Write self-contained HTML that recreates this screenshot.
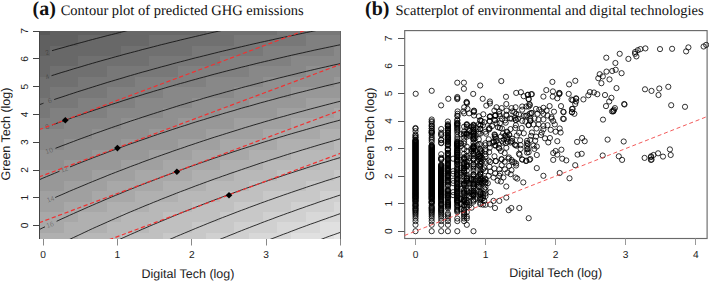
<!DOCTYPE html><html><head><meta charset="utf-8"><style>html,body{margin:0;padding:0;background:#fff;width:709px;height:281px;overflow:hidden}svg{display:block;text-rendering:geometricPrecision}</style></head><body>
<svg width="709" height="281" viewBox="0 0 709 281">
<defs><clipPath id="ca"><rect x="39" y="31" width="302" height="208"/></clipPath>
<linearGradient id="gt" x1="0" x2="1" y1="0" y2="0"><stop offset="0" stop-color="#5c5c5c"/><stop offset="1" stop-color="#7b7b7b"/></linearGradient>
<linearGradient id="gb" x1="0" x2="1" y1="0" y2="0"><stop offset="0" stop-color="#acacac"/><stop offset="1" stop-color="#e6e6e6"/></linearGradient>
<linearGradient id="gm" x1="0" x2="0" y1="0" y2="1"><stop offset="0" stop-color="#000"/><stop offset="1" stop-color="#fff"/></linearGradient>
<mask id="mk" maskUnits="userSpaceOnUse" x="39" y="31" width="302" height="208"><rect x="39" y="31" width="302" height="208" fill="url(#gm)"/></mask>
</defs>
<g>
<rect x="39" y="233" width="39" height="6" fill="#b0b0b0"/>
<rect x="78" y="233" width="43" height="6" fill="#b8b8b8"/>
<rect x="121" y="233" width="42" height="6" fill="#c0c0c0"/>
<rect x="163" y="233" width="43" height="6" fill="#c8c8c8"/>
<rect x="206" y="233" width="43" height="6" fill="#d0d0d0"/>
<rect x="249" y="233" width="42" height="6" fill="#d8d8d8"/>
<rect x="291" y="233" width="43" height="6" fill="#e0e0e0"/>
<rect x="334" y="233" width="7" height="6" fill="#e8e8e8"/>
<rect x="39" y="222" width="25" height="11" fill="#a8a8a8"/>
<rect x="64" y="222" width="43" height="11" fill="#b0b0b0"/>
<rect x="107" y="222" width="42" height="11" fill="#b8b8b8"/>
<rect x="149" y="222" width="43" height="11" fill="#c0c0c0"/>
<rect x="192" y="222" width="42" height="11" fill="#c8c8c8"/>
<rect x="234" y="222" width="43" height="11" fill="#d0d0d0"/>
<rect x="277" y="222" width="43" height="11" fill="#d8d8d8"/>
<rect x="320" y="222" width="21" height="11" fill="#e0e0e0"/>
<rect x="39" y="212" width="39" height="10" fill="#a8a8a8"/>
<rect x="78" y="212" width="43" height="10" fill="#b0b0b0"/>
<rect x="121" y="212" width="42" height="10" fill="#b8b8b8"/>
<rect x="163" y="212" width="57" height="10" fill="#c0c0c0"/>
<rect x="220" y="212" width="43" height="10" fill="#c8c8c8"/>
<rect x="263" y="212" width="43" height="10" fill="#d0d0d0"/>
<rect x="306" y="212" width="35" height="10" fill="#d8d8d8"/>
<rect x="39" y="202" width="25" height="10" fill="#a0a0a0"/>
<rect x="64" y="202" width="43" height="10" fill="#a8a8a8"/>
<rect x="107" y="202" width="42" height="10" fill="#b0b0b0"/>
<rect x="149" y="202" width="43" height="10" fill="#b8b8b8"/>
<rect x="192" y="202" width="42" height="10" fill="#c0c0c0"/>
<rect x="234" y="202" width="57" height="10" fill="#c8c8c8"/>
<rect x="291" y="202" width="43" height="10" fill="#d0d0d0"/>
<rect x="334" y="202" width="7" height="10" fill="#d8d8d8"/>
<rect x="39" y="191" width="53" height="11" fill="#a0a0a0"/>
<rect x="92" y="191" width="43" height="11" fill="#a8a8a8"/>
<rect x="135" y="191" width="43" height="11" fill="#b0b0b0"/>
<rect x="178" y="191" width="42" height="11" fill="#b8b8b8"/>
<rect x="220" y="191" width="43" height="11" fill="#c0c0c0"/>
<rect x="263" y="191" width="57" height="11" fill="#c8c8c8"/>
<rect x="320" y="191" width="21" height="11" fill="#d0d0d0"/>
<rect x="39" y="181" width="25" height="10" fill="#989898"/>
<rect x="64" y="181" width="43" height="10" fill="#a0a0a0"/>
<rect x="107" y="181" width="56" height="10" fill="#a8a8a8"/>
<rect x="163" y="181" width="43" height="10" fill="#b0b0b0"/>
<rect x="206" y="181" width="43" height="10" fill="#b8b8b8"/>
<rect x="249" y="181" width="57" height="10" fill="#c0c0c0"/>
<rect x="306" y="181" width="35" height="10" fill="#c8c8c8"/>
<rect x="39" y="170" width="53" height="11" fill="#989898"/>
<rect x="92" y="170" width="43" height="11" fill="#a0a0a0"/>
<rect x="135" y="170" width="57" height="11" fill="#a8a8a8"/>
<rect x="192" y="170" width="42" height="11" fill="#b0b0b0"/>
<rect x="234" y="170" width="43" height="11" fill="#b8b8b8"/>
<rect x="277" y="170" width="57" height="11" fill="#c0c0c0"/>
<rect x="334" y="170" width="7" height="11" fill="#c8c8c8"/>
<rect x="39" y="160" width="25" height="10" fill="#909090"/>
<rect x="64" y="160" width="57" height="10" fill="#989898"/>
<rect x="121" y="160" width="42" height="10" fill="#a0a0a0"/>
<rect x="163" y="160" width="57" height="10" fill="#a8a8a8"/>
<rect x="220" y="160" width="43" height="10" fill="#b0b0b0"/>
<rect x="263" y="160" width="57" height="10" fill="#b8b8b8"/>
<rect x="320" y="160" width="21" height="10" fill="#c0c0c0"/>
<rect x="39" y="150" width="53" height="10" fill="#909090"/>
<rect x="92" y="150" width="57" height="10" fill="#989898"/>
<rect x="149" y="150" width="43" height="10" fill="#a0a0a0"/>
<rect x="192" y="150" width="57" height="10" fill="#a8a8a8"/>
<rect x="249" y="150" width="42" height="10" fill="#b0b0b0"/>
<rect x="291" y="150" width="50" height="10" fill="#b8b8b8"/>
<rect x="39" y="139" width="25" height="11" fill="#888888"/>
<rect x="64" y="139" width="57" height="11" fill="#909090"/>
<rect x="121" y="139" width="57" height="11" fill="#989898"/>
<rect x="178" y="139" width="42" height="11" fill="#a0a0a0"/>
<rect x="220" y="139" width="57" height="11" fill="#a8a8a8"/>
<rect x="277" y="139" width="57" height="11" fill="#b0b0b0"/>
<rect x="334" y="139" width="7" height="11" fill="#b8b8b8"/>
<rect x="39" y="129" width="53" height="10" fill="#888888"/>
<rect x="92" y="129" width="57" height="10" fill="#909090"/>
<rect x="149" y="129" width="57" height="10" fill="#989898"/>
<rect x="206" y="129" width="57" height="10" fill="#a0a0a0"/>
<rect x="263" y="129" width="57" height="10" fill="#a8a8a8"/>
<rect x="320" y="129" width="21" height="10" fill="#b0b0b0"/>
<rect x="39" y="118" width="25" height="11" fill="#808080"/>
<rect x="64" y="118" width="57" height="11" fill="#888888"/>
<rect x="121" y="118" width="57" height="11" fill="#909090"/>
<rect x="178" y="118" width="56" height="11" fill="#989898"/>
<rect x="234" y="118" width="57" height="11" fill="#a0a0a0"/>
<rect x="291" y="118" width="50" height="11" fill="#a8a8a8"/>
<rect x="39" y="108" width="11" height="10" fill="#787878"/>
<rect x="50" y="108" width="57" height="10" fill="#808080"/>
<rect x="107" y="108" width="56" height="10" fill="#888888"/>
<rect x="163" y="108" width="57" height="10" fill="#909090"/>
<rect x="220" y="108" width="57" height="10" fill="#989898"/>
<rect x="277" y="108" width="57" height="10" fill="#a0a0a0"/>
<rect x="334" y="108" width="7" height="10" fill="#a8a8a8"/>
<rect x="39" y="98" width="39" height="10" fill="#787878"/>
<rect x="78" y="98" width="57" height="10" fill="#808080"/>
<rect x="135" y="98" width="57" height="10" fill="#888888"/>
<rect x="192" y="98" width="57" height="10" fill="#909090"/>
<rect x="249" y="98" width="57" height="10" fill="#989898"/>
<rect x="306" y="98" width="35" height="10" fill="#a0a0a0"/>
<rect x="39" y="87" width="11" height="11" fill="#707070"/>
<rect x="50" y="87" width="57" height="11" fill="#787878"/>
<rect x="107" y="87" width="56" height="11" fill="#808080"/>
<rect x="163" y="87" width="71" height="11" fill="#888888"/>
<rect x="234" y="87" width="57" height="11" fill="#909090"/>
<rect x="291" y="87" width="50" height="11" fill="#989898"/>
<rect x="39" y="77" width="39" height="10" fill="#707070"/>
<rect x="78" y="77" width="57" height="10" fill="#787878"/>
<rect x="135" y="77" width="71" height="10" fill="#808080"/>
<rect x="206" y="77" width="57" height="10" fill="#888888"/>
<rect x="263" y="77" width="71" height="10" fill="#909090"/>
<rect x="334" y="77" width="7" height="10" fill="#989898"/>
<rect x="39" y="66" width="11" height="11" fill="#686868"/>
<rect x="50" y="66" width="57" height="11" fill="#707070"/>
<rect x="107" y="66" width="71" height="11" fill="#787878"/>
<rect x="178" y="66" width="71" height="11" fill="#808080"/>
<rect x="249" y="66" width="57" height="11" fill="#888888"/>
<rect x="306" y="66" width="35" height="11" fill="#909090"/>
<rect x="39" y="56" width="39" height="10" fill="#686868"/>
<rect x="78" y="56" width="71" height="10" fill="#707070"/>
<rect x="149" y="56" width="71" height="10" fill="#787878"/>
<rect x="220" y="56" width="71" height="10" fill="#808080"/>
<rect x="291" y="56" width="50" height="10" fill="#888888"/>
<rect x="39" y="46" width="11" height="10" fill="#606060"/>
<rect x="50" y="46" width="71" height="10" fill="#686868"/>
<rect x="121" y="46" width="71" height="10" fill="#707070"/>
<rect x="192" y="46" width="71" height="10" fill="#787878"/>
<rect x="263" y="46" width="71" height="10" fill="#808080"/>
<rect x="334" y="46" width="7" height="10" fill="#888888"/>
<rect x="39" y="35" width="39" height="11" fill="#606060"/>
<rect x="78" y="35" width="71" height="11" fill="#686868"/>
<rect x="149" y="35" width="85" height="11" fill="#707070"/>
<rect x="234" y="35" width="72" height="11" fill="#787878"/>
<rect x="306" y="35" width="35" height="11" fill="#808080"/>
<rect x="39" y="31" width="11" height="4" fill="#585858"/>
<rect x="50" y="31" width="71" height="4" fill="#606060"/>
<rect x="121" y="31" width="85" height="4" fill="#686868"/>
<rect x="206" y="31" width="71" height="4" fill="#707070"/>
<rect x="277" y="31" width="64" height="4" fill="#787878"/>
</g>
<g clip-path="url(#ca)" fill="none" stroke="#111" stroke-width="0.85">
<polyline points="52.0,50.7 54.3,50.0 58.1,48.9 61.9,47.9 65.8,46.8 69.6,45.7 73.4,44.7 77.2,43.6 81.1,42.6 84.9,41.6 88.7,40.5 92.5,39.5 96.3,38.5 100.2,37.5 104.0,36.5 107.8,35.5 111.6,34.6 115.5,33.6 119.3,32.6 123.1,31.7 126.9,30.7 130.7,29.8 134.6,28.9 138.4,27.9 142.2,27.0 146.0,26.1 149.9,25.2 153.7,24.3 157.5,23.4 161.3,22.5 165.2,21.7 169.0,20.8 172.8,19.9 176.6,19.1 180.4,18.2 184.3,17.4 188.1,16.5 191.9,15.7 195.7,14.9 199.6,14.1 203.4,13.3 207.2,12.5 211.0,11.7 214.8,10.9 218.7,10.1 222.5,9.3 226.3,8.5 230.1,7.8 234.0,7.0 237.8,6.2 241.6,5.5 245.4,4.7 249.3,4.0 253.1,3.3 256.9,2.5 260.7,1.8 264.5,1.1 268.4,0.4 272.2,-0.3 276.0,-1.0 279.8,-1.7 283.7,-2.4 287.5,-3.1 291.3,-3.8 295.1,-4.4 298.9,-5.1 302.8,-5.8 306.6,-6.4 310.4,-7.1 314.2,-7.7 318.1,-8.4 321.9,-9.0 325.7,-9.6 329.5,-10.2 333.4,-10.9 337.2,-11.5 341.0,-12.1"/>
<polyline points="51.5,75.7 54.3,74.8 58.1,73.6 61.9,72.4 65.8,71.3 69.6,70.1 73.4,68.9 77.2,67.8 81.1,66.7 84.9,65.5 88.7,64.4 92.5,63.3 96.3,62.2 100.2,61.1 104.0,60.0 107.8,59.0 111.6,57.9 115.5,56.8 119.3,55.8 123.1,54.7 126.9,53.7 130.7,52.7 134.6,51.7 138.4,50.7 142.2,49.6 146.0,48.7 149.9,47.7 153.7,46.7 157.5,45.7 161.3,44.7 165.2,43.8 169.0,42.8 172.8,41.9 176.6,41.0 180.4,40.0 184.3,39.1 188.1,38.2 191.9,37.3 195.7,36.4 199.6,35.5 203.4,34.6 207.2,33.7 211.0,32.8 214.8,32.0 218.7,31.1 222.5,30.3 226.3,29.4 230.1,28.6 234.0,27.7 237.8,26.9 241.6,26.1 245.4,25.3 249.3,24.5 253.1,23.7 256.9,22.9 260.7,22.1 264.5,21.3 268.4,20.5 272.2,19.7 276.0,19.0 279.8,18.2 283.7,17.5 287.5,16.7 291.3,16.0 295.1,15.2 298.9,14.5 302.8,13.8 306.6,13.1 310.4,12.3 314.2,11.6 318.1,10.9 321.9,10.2 325.7,9.5 329.5,8.8 333.4,8.2 337.2,7.5 341.0,6.8"/>
<polyline points="54.0,99.6 54.3,99.5 58.1,98.2 61.9,97.0 65.8,95.7 69.6,94.4 73.4,93.2 77.2,91.9 81.1,90.7 84.9,89.5 88.7,88.3 92.5,87.1 96.3,85.9 100.2,84.7 104.0,83.5 107.8,82.3 111.6,81.2 115.5,80.0 119.3,78.9 123.1,77.8 126.9,76.6 130.7,75.5 134.6,74.4 138.4,73.3 142.2,72.2 146.0,71.2 149.9,70.1 153.7,69.0 157.5,68.0 161.3,66.9 165.2,65.9 169.0,64.9 172.8,63.8 176.6,62.8 180.4,61.8 184.3,60.8 188.1,59.8 191.9,58.8 195.7,57.8 199.6,56.9 203.4,55.9 207.2,55.0 211.0,54.0 214.8,53.1 218.7,52.1 222.5,51.2 226.3,50.3 230.1,49.4 234.0,48.5 237.8,47.6 241.6,46.7 245.4,45.8 249.3,44.9 253.1,44.0 256.9,43.2 260.7,42.3 264.5,41.5 268.4,40.6 272.2,39.8 276.0,38.9 279.8,38.1 283.7,37.3 287.5,36.5 291.3,35.7 295.1,34.9 298.9,34.1 302.8,33.3 306.6,32.5 310.4,31.7 314.2,30.9 318.1,30.2 321.9,29.4 325.7,28.7 329.5,27.9 333.4,27.2 337.2,26.4 341.0,25.7"/>
<polyline points="39.0,104.8 42.8,103.5 43.5,103.2"/>
<polyline points="52.0,125.0 54.3,124.2 58.1,122.8 61.9,121.4 65.8,120.1 69.6,118.7 73.4,117.3 77.2,116.0 81.1,114.7 84.9,113.4 88.7,112.1 92.5,110.8 96.3,109.5 100.2,108.2 104.0,106.9 107.8,105.7 111.6,104.4 115.5,103.2 119.3,102.0 123.1,100.7 126.9,99.5 130.7,98.3 134.6,97.1 138.4,96.0 142.2,94.8 146.0,93.6 149.9,92.5 153.7,91.3 157.5,90.2 161.3,89.1 165.2,87.9 169.0,86.8 172.8,85.7 176.6,84.6 180.4,83.5 184.3,82.5 188.1,81.4 191.9,80.3 195.7,79.3 199.6,78.2 203.4,77.2 207.2,76.2 211.0,75.1 214.8,74.1 218.7,73.1 222.5,72.1 226.3,71.1 230.1,70.1 234.0,69.2 237.8,68.2 241.6,67.2 245.4,66.3 249.3,65.3 253.1,64.4 256.9,63.4 260.7,62.5 264.5,61.6 268.4,60.7 272.2,59.8 276.0,58.9 279.8,58.0 283.7,57.1 287.5,56.2 291.3,55.3 295.1,54.5 298.9,53.6 302.8,52.8 306.6,51.9 310.4,51.1 314.2,50.2 318.1,49.4 321.9,48.6 325.7,47.8 329.5,47.0 333.4,46.2 337.2,45.4 341.0,44.6"/>
<polyline points="55.5,148.3 58.1,147.3 61.9,145.8 65.8,144.4 69.6,142.9 73.4,141.5 77.2,140.0 81.1,138.6 84.9,137.2 88.7,135.8 92.5,134.4 96.3,133.0 100.2,131.7 104.0,130.3 107.8,129.0 111.6,127.6 115.5,126.3 119.3,125.0 123.1,123.7 126.9,122.4 130.7,121.1 134.6,119.8 138.4,118.6 142.2,117.3 146.0,116.1 149.9,114.8 153.7,113.6 157.5,112.4 161.3,111.2 165.2,110.0 169.0,108.8 172.8,107.6 176.6,106.4 180.4,105.2 184.3,104.1 188.1,102.9 191.9,101.8 195.7,100.7 199.6,99.6 203.4,98.4 207.2,97.3 211.0,96.2 214.8,95.1 218.7,94.1 222.5,93.0 226.3,91.9 230.1,90.9 234.0,89.8 237.8,88.8 241.6,87.7 245.4,86.7 249.3,85.7 253.1,84.7 256.9,83.7 260.7,82.7 264.5,81.7 268.4,80.7 272.2,79.8 276.0,78.8 279.8,77.8 283.7,76.9 287.5,75.9 291.3,75.0 295.1,74.1 298.9,73.1 302.8,72.2 306.6,71.3 310.4,70.4 314.2,69.5 318.1,68.6 321.9,67.7 325.7,66.9 329.5,66.0 333.4,65.1 337.2,64.3 341.0,63.4"/>
<polyline points="70.0,166.9 73.4,165.6 77.2,164.0 81.1,162.5 84.9,161.0 88.7,159.5 92.5,158.0 96.3,156.6 100.2,155.1 104.0,153.7 107.8,152.2 111.6,150.8 115.5,149.4 119.3,148.0 123.1,146.6 126.9,145.2 130.7,143.8 134.6,142.5 138.4,141.1 142.2,139.8 146.0,138.5 149.9,137.1 153.7,135.8 157.5,134.5 161.3,133.2 165.2,132.0 169.0,130.7 172.8,129.4 176.6,128.2 180.4,126.9 184.3,125.7 188.1,124.5 191.9,123.2 195.7,122.0 199.6,120.8 203.4,119.7 207.2,118.5 211.0,117.3 214.8,116.1 218.7,115.0 222.5,113.8 226.3,112.7 230.1,111.6 234.0,110.5 237.8,109.3 241.6,108.2 245.4,107.1 249.3,106.1 253.1,105.0 256.9,103.9 260.7,102.8 264.5,101.8 268.4,100.7 272.2,99.7 276.0,98.7 279.8,97.6 283.7,96.6 287.5,95.6 291.3,94.6 295.1,93.6 298.9,92.6 302.8,91.7 306.6,90.7 310.4,89.7 314.2,88.8 318.1,87.8 321.9,86.9 325.7,85.9 329.5,85.0 333.4,84.1 337.2,83.2 341.0,82.3"/>
<polyline points="39.0,179.9 42.8,178.2 46.6,176.6 50.5,175.0 54.3,173.4 58.1,171.8 59.5,171.2"/>
<polyline points="55.2,197.5 58.1,196.2 61.9,194.6 65.8,192.9 69.6,191.2 73.4,189.6 77.2,188.0 81.1,186.4 84.9,184.8 88.7,183.2 92.5,181.6 96.3,180.1 100.2,178.5 104.0,177.0 107.8,175.4 111.6,173.9 115.5,172.4 119.3,170.9 123.1,169.5 126.9,168.0 130.7,166.5 134.6,165.1 138.4,163.7 142.2,162.2 146.0,160.8 149.9,159.4 153.7,158.0 157.5,156.6 161.3,155.3 165.2,153.9 169.0,152.6 172.8,151.2 176.6,149.9 180.4,148.6 184.3,147.3 188.1,145.9 191.9,144.7 195.7,143.4 199.6,142.1 203.4,140.8 207.2,139.6 211.0,138.3 214.8,137.1 218.7,135.9 222.5,134.7 226.3,133.5 230.1,132.3 234.0,131.1 237.8,129.9 241.6,128.7 245.4,127.5 249.3,126.4 253.1,125.2 256.9,124.1 260.7,123.0 264.5,121.8 268.4,120.7 272.2,119.6 276.0,118.5 279.8,117.4 283.7,116.4 287.5,115.3 291.3,114.2 295.1,113.2 298.9,112.1 302.8,111.1 306.6,110.0 310.4,109.0 314.2,108.0 318.1,107.0 321.9,106.0 325.7,105.0 329.5,104.0 333.4,103.0 337.2,102.0 341.0,101.1"/>
<polyline points="56.6,221.3 58.1,220.6 61.9,218.8 65.8,217.1 69.6,215.3 73.4,213.6 77.2,211.9 81.1,210.2 84.9,208.5 88.7,206.8 92.5,205.2 96.3,203.5 100.2,201.9 104.0,200.2 107.8,198.6 111.6,197.0 115.5,195.4 119.3,193.9 123.1,192.3 126.9,190.7 130.7,189.2 134.6,187.7 138.4,186.1 142.2,184.6 146.0,183.1 149.9,181.7 153.7,180.2 157.5,178.7 161.3,177.3 165.2,175.8 169.0,174.4 172.8,173.0 176.6,171.6 180.4,170.2 184.3,168.8 188.1,167.4 191.9,166.0 195.7,164.7 199.6,163.3 203.4,162.0 207.2,160.7 211.0,159.3 214.8,158.0 218.7,156.7 222.5,155.4 226.3,154.2 230.1,152.9 234.0,151.6 237.8,150.4 241.6,149.1 245.4,147.9 249.3,146.7 253.1,145.5 256.9,144.3 260.7,143.1 264.5,141.9 268.4,140.7 272.2,139.5 276.0,138.4 279.8,137.2 283.7,136.1 287.5,134.9 291.3,133.8 295.1,132.7 298.9,131.6 302.8,130.5 306.6,129.4 310.4,128.3 314.2,127.2 318.1,126.1 321.9,125.1 325.7,124.0 329.5,122.9 333.4,121.9 337.2,120.9 341.0,119.8"/>
<polyline points="39.0,229.7 42.8,227.8 45.0,226.8"/>
<polyline points="39.0,254.5 42.8,252.6 46.6,250.6 50.5,248.7 54.3,246.8 58.1,244.9 61.9,243.1 65.8,241.2 69.6,239.4 73.4,237.6 77.2,235.8 81.1,234.0 84.9,232.2 88.7,230.4 92.5,228.6 96.3,226.9 100.2,225.2 104.0,223.5 107.8,221.8 111.6,220.1 115.5,218.4 119.3,216.7 123.1,215.1 126.9,213.4 130.7,211.8 134.6,210.2 138.4,208.6 142.2,207.0 146.0,205.4 149.9,203.9 153.7,202.3 157.5,200.8 161.3,199.2 165.2,197.7 169.0,196.2 172.8,194.7 176.6,193.2 180.4,191.7 184.3,190.3 188.1,188.8 191.9,187.4 195.7,185.9 199.6,184.5 203.4,183.1 207.2,181.7 211.0,180.3 214.8,178.9 218.7,177.6 222.5,176.2 226.3,174.9 230.1,173.5 234.0,172.2 237.8,170.9 241.6,169.6 245.4,168.3 249.3,167.0 253.1,165.7 256.9,164.4 260.7,163.1 264.5,161.9 268.4,160.6 272.2,159.4 276.0,158.2 279.8,157.0 283.7,155.7 287.5,154.5 291.3,153.3 295.1,152.2 298.9,151.0 302.8,149.8 306.6,148.7 310.4,147.5 314.2,146.4 318.1,145.2 321.9,144.1 325.7,143.0 329.5,141.9 333.4,140.8 337.2,139.7 341.0,138.6"/>
<polyline points="39.0,279.3 42.8,277.2 46.6,275.2 50.5,273.2 54.3,271.2 58.1,269.2 61.9,267.3 65.8,265.3 69.6,263.4 73.4,261.5 77.2,259.6 81.1,257.7 84.9,255.8 88.7,253.9 92.5,252.1 96.3,250.3 100.2,248.4 104.0,246.6 107.8,244.9 111.6,243.1 115.5,241.3 119.3,239.6 123.1,237.8 126.9,236.1 130.7,234.4 134.6,232.7 138.4,231.0 142.2,229.3 146.0,227.7 149.9,226.0 153.7,224.4 157.5,222.8 161.3,221.2 165.2,219.6 169.0,218.0 172.8,216.4 176.6,214.8 180.4,213.3 184.3,211.7 188.1,210.2 191.9,208.7 195.7,207.2 199.6,205.7 203.4,204.2 207.2,202.7 211.0,201.3 214.8,199.8 218.7,198.4 222.5,196.9 226.3,195.5 230.1,194.1 234.0,192.7 237.8,191.3 241.6,189.9 245.4,188.6 249.3,187.2 253.1,185.9 256.9,184.5 260.7,183.2 264.5,181.9 268.4,180.5 272.2,179.2 276.0,178.0 279.8,176.7 283.7,175.4 287.5,174.1 291.3,172.9 295.1,171.6 298.9,170.4 302.8,169.2 306.6,167.9 310.4,166.7 314.2,165.5 318.1,164.3 321.9,163.1 325.7,162.0 329.5,160.8 333.4,159.6 337.2,158.5 341.0,157.3"/>
<polyline points="39.0,304.0 42.8,301.9 46.6,299.7 50.5,297.6 54.3,295.5 58.1,293.5 61.9,291.4 65.8,289.4 69.6,287.3 73.4,285.3 77.2,283.3 81.1,281.4 84.9,279.4 88.7,277.4 92.5,275.5 96.3,273.6 100.2,271.7 104.0,269.8 107.8,267.9 111.6,266.0 115.5,264.2 119.3,262.4 123.1,260.5 126.9,258.7 130.7,256.9 134.6,255.2 138.4,253.4 142.2,251.6 146.0,249.9 149.9,248.2 153.7,246.5 157.5,244.7 161.3,243.1 165.2,241.4 169.0,239.7 172.8,238.1 176.6,236.4 180.4,234.8 184.3,233.2 188.1,231.6 191.9,230.0 195.7,228.4 199.6,226.8 203.4,225.3 207.2,223.7 211.0,222.2 214.8,220.7 218.7,219.1 222.5,217.6 226.3,216.2 230.1,214.7 234.0,213.2 237.8,211.7 241.6,210.3 245.4,208.9 249.3,207.4 253.1,206.0 256.9,204.6 260.7,203.2 264.5,201.8 268.4,200.4 272.2,199.1 276.0,197.7 279.8,196.4 283.7,195.0 287.5,193.7 291.3,192.4 295.1,191.1 298.9,189.8 302.8,188.5 306.6,187.2 310.4,185.9 314.2,184.7 318.1,183.4 321.9,182.2 325.7,180.9 329.5,179.7 333.4,178.5 337.2,177.3 341.0,176.1"/>
<polyline points="39.0,328.7 42.8,326.5 46.6,324.2 50.5,322.0 54.3,319.8 58.1,317.7 61.9,315.5 65.8,313.4 69.6,311.3 73.4,309.1 77.2,307.1 81.1,305.0 84.9,302.9 88.7,300.9 92.5,298.9 96.3,296.9 100.2,294.9 104.0,292.9 107.8,290.9 111.6,289.0 115.5,287.0 119.3,285.1 123.1,283.2 126.9,281.3 130.7,279.4 134.6,277.6 138.4,275.7 142.2,273.9 146.0,272.1 149.9,270.3 153.7,268.5 157.5,266.7 161.3,264.9 165.2,263.2 169.0,261.4 172.8,259.7 176.6,258.0 180.4,256.3 184.3,254.6 188.1,252.9 191.9,251.2 195.7,249.6 199.6,247.9 203.4,246.3 207.2,244.7 211.0,243.1 214.8,241.5 218.7,239.9 222.5,238.3 226.3,236.8 230.1,235.2 234.0,233.7 237.8,232.1 241.6,230.6 245.4,229.1 249.3,227.6 253.1,226.1 256.9,224.7 260.7,223.2 264.5,221.7 268.4,220.3 272.2,218.9 276.0,217.4 279.8,216.0 283.7,214.6 287.5,213.2 291.3,211.9 295.1,210.5 298.9,209.1 302.8,207.8 306.6,206.4 310.4,205.1 314.2,203.8 318.1,202.4 321.9,201.1 325.7,199.8 329.5,198.6 333.4,197.3 337.2,196.0 341.0,194.8"/>
<polyline points="39.0,353.3 42.8,351.0 46.6,348.7 50.5,346.4 54.3,344.1 58.1,341.8 61.9,339.6 65.8,337.3 69.6,335.1 73.4,332.9 77.2,330.7 81.1,328.6 84.9,326.4 88.7,324.3 92.5,322.2 96.3,320.1 100.2,318.0 104.0,315.9 107.8,313.9 111.6,311.9 115.5,309.8 119.3,307.8 123.1,305.8 126.9,303.9 130.7,301.9 134.6,300.0 138.4,298.0 142.2,296.1 146.0,294.2 149.9,292.3 153.7,290.5 157.5,288.6 161.3,286.7 165.2,284.9 169.0,283.1 172.8,281.3 176.6,279.5 180.4,277.7 184.3,275.9 188.1,274.2 191.9,272.5 195.7,270.7 199.6,269.0 203.4,267.3 207.2,265.6 211.0,263.9 214.8,262.3 218.7,260.6 222.5,259.0 226.3,257.3 230.1,255.7 234.0,254.1 237.8,252.5 241.6,250.9 245.4,249.3 249.3,247.8 253.1,246.2 256.9,244.7 260.7,243.2 264.5,241.6 268.4,240.1 272.2,238.6 276.0,237.2 279.8,235.7 283.7,234.2 287.5,232.8 291.3,231.3 295.1,229.9 298.9,228.4 302.8,227.0 306.6,225.6 310.4,224.2 314.2,222.9 318.1,221.5 321.9,220.1 325.7,218.8 329.5,217.4 333.4,216.1 337.2,214.7 341.0,213.4"/>
<polyline points="39.0,377.9 42.8,375.5 46.6,373.1 50.5,370.7 54.3,368.3 58.1,365.9 61.9,363.6 65.8,361.2 69.6,358.9 73.4,356.7 77.2,354.4 81.1,352.1 84.9,349.9 88.7,347.7 92.5,345.5 96.3,343.3 100.2,341.1 104.0,339.0 107.8,336.8 111.6,334.7 115.5,332.6 119.3,330.5 123.1,328.4 126.9,326.4 130.7,324.3 134.6,322.3 138.4,320.3 142.2,318.3 146.0,316.3 149.9,314.4 153.7,312.4 157.5,310.5 161.3,308.5 165.2,306.6 169.0,304.7 172.8,302.8 176.6,301.0 180.4,299.1 184.3,297.3 188.1,295.5 191.9,293.6 195.7,291.8 199.6,290.0 203.4,288.3 207.2,286.5 211.0,284.8 214.8,283.0 218.7,281.3 222.5,279.6 226.3,277.9 230.1,276.2 234.0,274.5 237.8,272.8 241.6,271.2 245.4,269.6 249.3,267.9 253.1,266.3 256.9,264.7 260.7,263.1 264.5,261.5 268.4,259.9 272.2,258.4 276.0,256.8 279.8,255.3 283.7,253.8 287.5,252.2 291.3,250.7 295.1,249.2 298.9,247.8 302.8,246.3 306.6,244.8 310.4,243.4 314.2,241.9 318.1,240.5 321.9,239.1 325.7,237.6 329.5,236.2 333.4,234.8 337.2,233.5 341.0,232.1"/>
</g>
<g font-family="Liberation Sans, sans-serif" font-size="7" fill="#000" fill-opacity="0.32" text-anchor="middle">
<text x="47.6" y="53.2" transform="rotate(-20 47.6 53.2)" dominant-baseline="central">2</text>
<text x="47.6" y="77.7" transform="rotate(-20 47.6 77.7)" dominant-baseline="central">4</text>
<text x="50.0" y="101.5" transform="rotate(-20 50.0 101.5)" dominant-baseline="central">6</text>
<text x="47.7" y="127.5" transform="rotate(-20 47.7 127.5)" dominant-baseline="central">8</text>
<text x="49.5" y="151.6" transform="rotate(-20 49.5 151.6)" dominant-baseline="central">10</text>
<text x="64.6" y="170.0" transform="rotate(-20 64.6 170.0)" dominant-baseline="central">12</text>
<text x="50.8" y="200.0" transform="rotate(-20 50.8 200.0)" dominant-baseline="central">14</text>
<text x="50.3" y="225.6" transform="rotate(-20 50.3 225.6)" dominant-baseline="central">16</text>
</g>
<g clip-path="url(#ca)" stroke="#f03232" stroke-width="1.2" stroke-dasharray="4.2 2.6" fill="none">
<line x1="39.0" y1="129.7" x2="341.0" y2="16.9"/>
<line x1="39.0" y1="177.0" x2="341.0" y2="64.2"/>
<line x1="39.0" y1="222.8" x2="341.0" y2="110.0"/>
<line x1="39.0" y1="265.9" x2="341.0" y2="153.1"/>
</g>
<path d="M65.3 117.0L68.6 120.3L65.3 123.6L62.0 120.3Z" fill="#000"/>
<path d="M117.4 144.8L120.7 148.1L117.4 151.4L114.1 148.1Z" fill="#000"/>
<path d="M176.9 168.4L180.2 171.7L176.9 175.0L173.6 171.7Z" fill="#000"/>
<path d="M229.0 192.0L232.3 195.3L229.0 198.6L225.7 195.3Z" fill="#000"/>
<g stroke="#444" stroke-width="1" fill="none">
<line x1="39.5" y1="31" x2="39.5" y2="239"/>
<line x1="340.5" y1="31" x2="340.5" y2="239" stroke="#666"/>
<line x1="33" y1="225.5" x2="39.5" y2="225.5"/>
<line x1="33" y1="197.5" x2="39.5" y2="197.5"/>
<line x1="33" y1="170.5" x2="39.5" y2="170.5"/>
<line x1="33" y1="142.5" x2="39.5" y2="142.5"/>
<line x1="33" y1="114.5" x2="39.5" y2="114.5"/>
<line x1="33" y1="86.5" x2="39.5" y2="86.5"/>
<line x1="33" y1="58.5" x2="39.5" y2="58.5"/>
<line x1="33" y1="31.5" x2="39.5" y2="31.5"/>
</g>
<g stroke="#888" stroke-width="1">
<line x1="43.5" y1="239" x2="43.5" y2="245.5"/>
<line x1="117.5" y1="239" x2="117.5" y2="245.5"/>
<line x1="191.5" y1="239" x2="191.5" y2="245.5"/>
<line x1="266.5" y1="239" x2="266.5" y2="245.5"/>
<line x1="340.5" y1="239" x2="340.5" y2="245.5"/>
</g>
<g font-family="Liberation Sans, sans-serif" font-size="10.2" fill="#222" text-anchor="middle">
<text x="43.0" y="258.3">0</text>
<text x="117.4" y="258.3">1</text>
<text x="191.8" y="258.3">2</text>
<text x="266.2" y="258.3">3</text>
<text x="340.6" y="258.3">4</text>
<text x="27.9" y="225.5" transform="rotate(-90 27.9 225.5)">0</text>
<text x="27.9" y="197.7" transform="rotate(-90 27.9 197.7)">1</text>
<text x="27.9" y="169.9" transform="rotate(-90 27.9 169.9)">2</text>
<text x="27.9" y="142.1" transform="rotate(-90 27.9 142.1)">3</text>
<text x="27.9" y="114.3" transform="rotate(-90 27.9 114.3)">4</text>
<text x="27.9" y="86.6" transform="rotate(-90 27.9 86.6)">5</text>
<text x="27.9" y="58.8" transform="rotate(-90 27.9 58.8)">6</text>
<text x="27.9" y="31.0" transform="rotate(-90 27.9 31.0)">7</text>
</g>
<g font-family="Liberation Sans, sans-serif" font-size="12.5" fill="#222" text-anchor="middle">
<text x="188" y="277.8">Digital Tech (log)</text>
<text x="10" y="134" transform="rotate(-90 10 134)">Green Tech (log)</text>
<text x="555.7" y="277">Digital Tech (log)</text>
<text x="374.4" y="134" transform="rotate(-90 374.4 134)">Green Tech (log)</text>
</g>
<g font-family="Liberation Serif, serif" fill="#111">
<text x="32.5" y="15.3" font-size="20" font-weight="bold">(a)</text>
<text x="60.7" y="15.3" font-size="14.5">Contour plot of predicted GHG emissions</text>
<text x="365" y="15.3" font-size="20" font-weight="bold">(b)</text>
<text x="395.5" y="15.3" font-size="14.5">Scatterplot of environmental and digital technologies</text>
</g>
<rect x="404.7" y="30.6" width="302.4" height="207.9" fill="none" stroke="#6a6a6a" stroke-width="1.15"/>
<g stroke="#555" stroke-width="1">
<line x1="398" y1="231.5" x2="404.5" y2="231.5"/>
<line x1="398" y1="203.5" x2="404.5" y2="203.5"/>
<line x1="398" y1="176.5" x2="404.5" y2="176.5"/>
<line x1="398" y1="148.5" x2="404.5" y2="148.5"/>
<line x1="398" y1="121.5" x2="404.5" y2="121.5"/>
<line x1="398" y1="93.5" x2="404.5" y2="93.5"/>
<line x1="398" y1="65.5" x2="404.5" y2="65.5"/>
<line x1="398" y1="38.5" x2="404.5" y2="38.5"/>
</g>
<g stroke="#999" stroke-width="1">
<line x1="415.5" y1="238.5" x2="415.5" y2="245"/>
<line x1="485.5" y1="238.5" x2="485.5" y2="245"/>
<line x1="555.5" y1="238.5" x2="555.5" y2="245"/>
<line x1="625.5" y1="238.5" x2="625.5" y2="245"/>
<line x1="695.5" y1="238.5" x2="695.5" y2="245"/>
</g>
<g font-family="Liberation Sans, sans-serif" font-size="10.2" fill="#222" text-anchor="middle">
<text x="415.5" y="258">0</text>
<text x="485.6" y="258">1</text>
<text x="555.6" y="258">2</text>
<text x="625.7" y="258">3</text>
<text x="695.8" y="258">4</text>
<text x="392" y="231.2" transform="rotate(-90 392 231.2)">0</text>
<text x="392" y="203.7" transform="rotate(-90 392 203.7)">1</text>
<text x="392" y="176.1" transform="rotate(-90 392 176.1)">2</text>
<text x="392" y="148.6" transform="rotate(-90 392 148.6)">3</text>
<text x="392" y="121.0" transform="rotate(-90 392 121.0)">4</text>
<text x="392" y="93.5" transform="rotate(-90 392 93.5)">5</text>
<text x="392" y="66.0" transform="rotate(-90 392 66.0)">6</text>
<text x="392" y="38.4" transform="rotate(-90 392 38.4)">7</text>
</g>
<g fill="none" stroke="#000" stroke-width="0.8">
<circle cx="606.3" cy="57.7" r="2.6"/>
<circle cx="619.7" cy="53.8" r="2.6"/>
<circle cx="615.4" cy="63.0" r="2.6"/>
<circle cx="606.5" cy="71.6" r="2.6"/>
<circle cx="612.2" cy="71.0" r="2.6"/>
<circle cx="615.7" cy="69.8" r="2.6"/>
<circle cx="621.6" cy="73.2" r="2.6"/>
<circle cx="599.7" cy="74.2" r="2.6"/>
<circle cx="602.8" cy="76.4" r="2.6"/>
<circle cx="598.3" cy="78.2" r="2.6"/>
<circle cx="609.5" cy="79.4" r="2.6"/>
<circle cx="628.4" cy="58.9" r="2.6"/>
<circle cx="635.1" cy="52.0" r="2.6"/>
<circle cx="636.4" cy="56.4" r="2.6"/>
<circle cx="637.8" cy="50.2" r="2.6"/>
<circle cx="640.4" cy="49.1" r="2.6"/>
<circle cx="635.1" cy="53.8" r="2.6"/>
<circle cx="645.4" cy="48.4" r="2.6"/>
<circle cx="660.0" cy="49.1" r="2.6"/>
<circle cx="672.1" cy="48.8" r="2.6"/>
<circle cx="688.4" cy="47.4" r="2.6"/>
<circle cx="686.1" cy="51.4" r="2.6"/>
<circle cx="703.6" cy="46.5" r="2.6"/>
<circle cx="706.2" cy="44.9" r="2.6"/>
<circle cx="415.7" cy="93.8" r="2.6"/>
<circle cx="431.7" cy="90.8" r="2.6"/>
<circle cx="441.1" cy="105.4" r="2.6"/>
<circle cx="448.3" cy="98.8" r="2.6"/>
<circle cx="457.3" cy="82.7" r="2.6"/>
<circle cx="463.9" cy="82.7" r="2.6"/>
<circle cx="463.9" cy="88.8" r="2.6"/>
<circle cx="480.2" cy="85.5" r="2.6"/>
<circle cx="473.2" cy="93.9" r="2.6"/>
<circle cx="457.3" cy="97.0" r="2.6"/>
<circle cx="457.3" cy="98.2" r="2.6"/>
<circle cx="457.3" cy="99.1" r="2.6"/>
<circle cx="482.7" cy="98.8" r="2.6"/>
<circle cx="466.6" cy="101.9" r="2.6"/>
<circle cx="466.6" cy="102.5" r="2.6"/>
<circle cx="467.0" cy="103.2" r="2.6"/>
<circle cx="489.9" cy="101.5" r="2.6"/>
<circle cx="489.9" cy="103.5" r="2.6"/>
<circle cx="486.3" cy="105.6" r="2.6"/>
<circle cx="464.2" cy="107.3" r="2.6"/>
<circle cx="467.5" cy="108.9" r="2.6"/>
<circle cx="474.0" cy="110.6" r="2.6"/>
<circle cx="474.0" cy="111.2" r="2.6"/>
<circle cx="473.7" cy="112.2" r="2.6"/>
<circle cx="463.4" cy="111.4" r="2.6"/>
<circle cx="464.2" cy="113.3" r="2.6"/>
<circle cx="469.1" cy="113.3" r="2.6"/>
<circle cx="457.6" cy="111.4" r="2.6"/>
<circle cx="457.6" cy="113.8" r="2.6"/>
<circle cx="457.6" cy="116.3" r="2.6"/>
<circle cx="474.0" cy="115.5" r="2.6"/>
<circle cx="478.9" cy="116.3" r="2.6"/>
<circle cx="483.3" cy="114.3" r="2.6"/>
<circle cx="489.9" cy="116.6" r="2.6"/>
<circle cx="501.3" cy="81.1" r="2.6"/>
<circle cx="506.0" cy="96.8" r="2.6"/>
<circle cx="516.2" cy="92.9" r="2.6"/>
<circle cx="520.9" cy="92.2" r="2.6"/>
<circle cx="523.7" cy="96.2" r="2.6"/>
<circle cx="527.9" cy="94.7" r="2.6"/>
<circle cx="531.2" cy="94.2" r="2.6"/>
<circle cx="528.7" cy="99.1" r="2.6"/>
<circle cx="506.3" cy="104.0" r="2.6"/>
<circle cx="496.5" cy="107.3" r="2.6"/>
<circle cx="501.7" cy="108.1" r="2.6"/>
<circle cx="511.5" cy="108.1" r="2.6"/>
<circle cx="515.6" cy="107.3" r="2.6"/>
<circle cx="522.2" cy="106.5" r="2.6"/>
<circle cx="526.3" cy="106.5" r="2.6"/>
<circle cx="529.9" cy="105.2" r="2.6"/>
<circle cx="522.2" cy="109.7" r="2.6"/>
<circle cx="494.4" cy="110.6" r="2.6"/>
<circle cx="499.3" cy="111.4" r="2.6"/>
<circle cx="506.6" cy="110.6" r="2.6"/>
<circle cx="512.4" cy="111.4" r="2.6"/>
<circle cx="516.1" cy="113.8" r="2.6"/>
<circle cx="518.9" cy="114.6" r="2.6"/>
<circle cx="490.3" cy="116.3" r="2.6"/>
<circle cx="495.2" cy="115.5" r="2.6"/>
<circle cx="500.1" cy="116.3" r="2.6"/>
<circle cx="506.6" cy="115.5" r="2.6"/>
<circle cx="525.5" cy="116.0" r="2.6"/>
<circle cx="531.2" cy="113.0" r="2.6"/>
<circle cx="511.5" cy="118.7" r="2.6"/>
<circle cx="515.6" cy="119.9" r="2.6"/>
<circle cx="552.4" cy="81.9" r="2.6"/>
<circle cx="569.1" cy="84.4" r="2.6"/>
<circle cx="546.3" cy="90.1" r="2.6"/>
<circle cx="552.9" cy="91.4" r="2.6"/>
<circle cx="559.2" cy="92.9" r="2.6"/>
<circle cx="559.6" cy="93.3" r="2.6"/>
<circle cx="559.2" cy="94.2" r="2.6"/>
<circle cx="531.9" cy="94.2" r="2.6"/>
<circle cx="543.4" cy="96.6" r="2.6"/>
<circle cx="552.7" cy="96.6" r="2.6"/>
<circle cx="557.3" cy="98.3" r="2.6"/>
<circle cx="568.7" cy="93.9" r="2.6"/>
<circle cx="571.5" cy="99.6" r="2.6"/>
<circle cx="527.8" cy="95.0" r="2.6"/>
<circle cx="528.6" cy="99.1" r="2.6"/>
<circle cx="529.5" cy="104.0" r="2.6"/>
<circle cx="528.6" cy="106.5" r="2.6"/>
<circle cx="549.6" cy="106.1" r="2.6"/>
<circle cx="561.0" cy="106.1" r="2.6"/>
<circle cx="536.0" cy="108.9" r="2.6"/>
<circle cx="539.3" cy="109.7" r="2.6"/>
<circle cx="543.4" cy="107.8" r="2.6"/>
<circle cx="546.6" cy="110.6" r="2.6"/>
<circle cx="541.7" cy="111.4" r="2.6"/>
<circle cx="554.0" cy="111.7" r="2.6"/>
<circle cx="563.3" cy="111.7" r="2.6"/>
<circle cx="563.6" cy="112.2" r="2.6"/>
<circle cx="572.0" cy="108.9" r="2.6"/>
<circle cx="572.0" cy="112.2" r="2.6"/>
<circle cx="531.9" cy="113.0" r="2.6"/>
<circle cx="537.6" cy="113.8" r="2.6"/>
<circle cx="543.4" cy="113.8" r="2.6"/>
<circle cx="547.5" cy="115.5" r="2.6"/>
<circle cx="551.5" cy="117.1" r="2.6"/>
<circle cx="563.0" cy="118.7" r="2.6"/>
<circle cx="530.3" cy="118.7" r="2.6"/>
<circle cx="527.0" cy="115.5" r="2.6"/>
<circle cx="589.9" cy="92.1" r="2.6"/>
<circle cx="594.0" cy="92.5" r="2.6"/>
<circle cx="597.3" cy="94.2" r="2.6"/>
<circle cx="588.3" cy="95.3" r="2.6"/>
<circle cx="583.4" cy="99.4" r="2.6"/>
<circle cx="576.0" cy="98.3" r="2.6"/>
<circle cx="576.3" cy="98.8" r="2.6"/>
<circle cx="572.7" cy="100.2" r="2.6"/>
<circle cx="576.0" cy="101.5" r="2.6"/>
<circle cx="575.2" cy="104.0" r="2.6"/>
<circle cx="605.0" cy="95.0" r="2.6"/>
<circle cx="609.2" cy="101.5" r="2.6"/>
<circle cx="606.0" cy="106.1" r="2.6"/>
<circle cx="572.7" cy="108.9" r="2.6"/>
<circle cx="571.9" cy="112.2" r="2.6"/>
<circle cx="574.4" cy="113.8" r="2.6"/>
<circle cx="612.0" cy="111.4" r="2.6"/>
<circle cx="603.0" cy="119.6" r="2.6"/>
<circle cx="601.4" cy="83.2" r="2.6"/>
<circle cx="611.4" cy="97.8" r="2.6"/>
<circle cx="616.5" cy="88.1" r="2.6"/>
<circle cx="645.0" cy="89.3" r="2.6"/>
<circle cx="651.5" cy="90.9" r="2.6"/>
<circle cx="624.2" cy="104.0" r="2.6"/>
<circle cx="624.5" cy="104.5" r="2.6"/>
<circle cx="614.9" cy="108.1" r="2.6"/>
<circle cx="613.9" cy="109.7" r="2.6"/>
<circle cx="613.2" cy="111.4" r="2.6"/>
<circle cx="613.5" cy="111.0" r="2.6"/>
<circle cx="659.3" cy="88.5" r="2.6"/>
<circle cx="658.5" cy="95.0" r="2.6"/>
<circle cx="668.3" cy="86.8" r="2.6"/>
<circle cx="671.2" cy="105.2" r="2.6"/>
<circle cx="685.0" cy="106.8" r="2.6"/>
<circle cx="575.3" cy="80.8" r="2.6"/>
<circle cx="530.3" cy="121.1" r="2.6"/>
<circle cx="534.4" cy="118.6" r="2.6"/>
<circle cx="538.5" cy="119.5" r="2.6"/>
<circle cx="543.4" cy="119.5" r="2.6"/>
<circle cx="551.5" cy="118.6" r="2.6"/>
<circle cx="553.2" cy="121.1" r="2.6"/>
<circle cx="563.8" cy="119.0" r="2.6"/>
<circle cx="528.6" cy="125.2" r="2.6"/>
<circle cx="533.5" cy="124.4" r="2.6"/>
<circle cx="538.5" cy="124.4" r="2.6"/>
<circle cx="543.4" cy="126.0" r="2.6"/>
<circle cx="547.5" cy="125.2" r="2.6"/>
<circle cx="554.8" cy="124.4" r="2.6"/>
<circle cx="536.5" cy="128.5" r="2.6"/>
<circle cx="543.4" cy="129.3" r="2.6"/>
<circle cx="550.7" cy="129.8" r="2.6"/>
<circle cx="555.6" cy="131.7" r="2.6"/>
<circle cx="559.7" cy="128.5" r="2.6"/>
<circle cx="560.6" cy="132.5" r="2.6"/>
<circle cx="531.9" cy="132.5" r="2.6"/>
<circle cx="541.7" cy="132.5" r="2.6"/>
<circle cx="531.1" cy="135.8" r="2.6"/>
<circle cx="536.0" cy="136.6" r="2.6"/>
<circle cx="540.9" cy="135.0" r="2.6"/>
<circle cx="545.0" cy="138.3" r="2.6"/>
<circle cx="549.9" cy="138.0" r="2.6"/>
<circle cx="530.3" cy="139.9" r="2.6"/>
<circle cx="535.2" cy="140.7" r="2.6"/>
<circle cx="548.3" cy="142.4" r="2.6"/>
<circle cx="557.3" cy="141.2" r="2.6"/>
<circle cx="527.8" cy="144.0" r="2.6"/>
<circle cx="533.5" cy="145.6" r="2.6"/>
<circle cx="536.8" cy="146.5" r="2.6"/>
<circle cx="534.4" cy="148.9" r="2.6"/>
<circle cx="527.8" cy="148.9" r="2.6"/>
<circle cx="528.6" cy="152.2" r="2.6"/>
<circle cx="536.8" cy="155.0" r="2.6"/>
<circle cx="553.2" cy="153.0" r="2.6"/>
<circle cx="555.6" cy="151.0" r="2.6"/>
<circle cx="557.3" cy="154.6" r="2.6"/>
<circle cx="561.4" cy="149.7" r="2.6"/>
<circle cx="553.2" cy="159.9" r="2.6"/>
<circle cx="562.2" cy="158.7" r="2.6"/>
<circle cx="566.3" cy="160.4" r="2.6"/>
<circle cx="529.5" cy="159.9" r="2.6"/>
<circle cx="582.1" cy="138.0" r="2.6"/>
<circle cx="584.7" cy="141.2" r="2.6"/>
<circle cx="577.1" cy="141.9" r="2.6"/>
<circle cx="607.6" cy="139.6" r="2.6"/>
<circle cx="577.6" cy="154.6" r="2.6"/>
<circle cx="581.7" cy="153.8" r="2.6"/>
<circle cx="602.7" cy="155.5" r="2.6"/>
<circle cx="623.7" cy="141.5" r="2.6"/>
<circle cx="618.8" cy="156.3" r="2.6"/>
<circle cx="622.1" cy="159.9" r="2.6"/>
<circle cx="644.6" cy="157.9" r="2.6"/>
<circle cx="650.9" cy="157.1" r="2.6"/>
<circle cx="650.9" cy="159.9" r="2.6"/>
<circle cx="651.1" cy="156.3" r="2.6"/>
<circle cx="651.6" cy="159.6" r="2.6"/>
<circle cx="653.5" cy="155.0" r="2.6"/>
<circle cx="658.1" cy="153.3" r="2.6"/>
<circle cx="663.0" cy="156.6" r="2.6"/>
<circle cx="669.9" cy="149.4" r="2.6"/>
<circle cx="670.7" cy="155.0" r="2.6"/>
<circle cx="575.2" cy="165.2" r="2.6"/>
<circle cx="569.5" cy="178.3" r="2.6"/>
<circle cx="536.8" cy="168.1" r="2.6"/>
<circle cx="543.4" cy="175.8" r="2.6"/>
<circle cx="559.7" cy="173.0" r="2.6"/>
<circle cx="501.7" cy="159.5" r="2.6"/>
<circle cx="508.3" cy="158.6" r="2.6"/>
<circle cx="522.2" cy="159.5" r="2.6"/>
<circle cx="526.3" cy="160.6" r="2.6"/>
<circle cx="496.0" cy="161.1" r="2.6"/>
<circle cx="490.3" cy="161.9" r="2.6"/>
<circle cx="512.4" cy="161.9" r="2.6"/>
<circle cx="516.1" cy="163.5" r="2.6"/>
<circle cx="501.7" cy="165.2" r="2.6"/>
<circle cx="509.1" cy="166.0" r="2.6"/>
<circle cx="516.1" cy="165.5" r="2.6"/>
<circle cx="489.5" cy="166.8" r="2.6"/>
<circle cx="494.4" cy="168.5" r="2.6"/>
<circle cx="499.3" cy="169.3" r="2.6"/>
<circle cx="505.0" cy="169.3" r="2.6"/>
<circle cx="511.5" cy="170.1" r="2.6"/>
<circle cx="490.3" cy="171.7" r="2.6"/>
<circle cx="495.2" cy="173.4" r="2.6"/>
<circle cx="500.1" cy="173.4" r="2.6"/>
<circle cx="507.5" cy="172.5" r="2.6"/>
<circle cx="510.7" cy="174.2" r="2.6"/>
<circle cx="488.6" cy="175.8" r="2.6"/>
<circle cx="493.5" cy="177.5" r="2.6"/>
<circle cx="499.3" cy="175.8" r="2.6"/>
<circle cx="503.4" cy="177.5" r="2.6"/>
<circle cx="515.6" cy="177.5" r="2.6"/>
<circle cx="517.3" cy="178.6" r="2.6"/>
<circle cx="497.6" cy="180.7" r="2.6"/>
<circle cx="500.9" cy="181.5" r="2.6"/>
<circle cx="523.3" cy="182.4" r="2.6"/>
<circle cx="487.8" cy="183.2" r="2.6"/>
<circle cx="506.3" cy="186.5" r="2.6"/>
<circle cx="490.3" cy="192.2" r="2.6"/>
<circle cx="506.3" cy="197.6" r="2.6"/>
<circle cx="493.5" cy="200.9" r="2.6"/>
<circle cx="499.3" cy="200.9" r="2.6"/>
<circle cx="490.3" cy="204.5" r="2.6"/>
<circle cx="495.0" cy="208.0" r="2.6"/>
<circle cx="508.7" cy="210.2" r="2.6"/>
<circle cx="511.3" cy="208.0" r="2.6"/>
<circle cx="519.3" cy="208.0" r="2.6"/>
<circle cx="528.7" cy="218.2" r="2.6"/>
<circle cx="495.2" cy="120.4" r="2.6"/>
<circle cx="505.0" cy="120.4" r="2.6"/>
<circle cx="522.2" cy="120.9" r="2.6"/>
<circle cx="530.4" cy="120.4" r="2.6"/>
<circle cx="489.6" cy="120.9" r="2.6"/>
<circle cx="488.7" cy="139.3" r="2.6"/>
<circle cx="489.2" cy="143.5" r="2.6"/>
<circle cx="489.7" cy="147.8" r="2.6"/>
<circle cx="489.2" cy="152.1" r="2.6"/>
<circle cx="488.7" cy="160.6" r="2.6"/>
<circle cx="493.5" cy="141.4" r="2.6"/>
<circle cx="494.0" cy="142.0" r="2.6"/>
<circle cx="495.1" cy="145.1" r="2.6"/>
<circle cx="495.6" cy="145.8" r="2.6"/>
<circle cx="495.6" cy="137.1" r="2.6"/>
<circle cx="494.5" cy="156.3" r="2.6"/>
<circle cx="495.6" cy="161.1" r="2.6"/>
<circle cx="498.8" cy="147.8" r="2.6"/>
<circle cx="499.3" cy="148.5" r="2.6"/>
<circle cx="500.9" cy="151.0" r="2.6"/>
<circle cx="501.5" cy="159.0" r="2.6"/>
<circle cx="502.0" cy="140.9" r="2.6"/>
<circle cx="504.7" cy="161.7" r="2.6"/>
<circle cx="505.7" cy="143.0" r="2.6"/>
<circle cx="506.3" cy="147.8" r="2.6"/>
<circle cx="504.7" cy="153.1" r="2.6"/>
<circle cx="508.9" cy="157.4" r="2.6"/>
<circle cx="507.3" cy="137.1" r="2.6"/>
<circle cx="512.1" cy="140.9" r="2.6"/>
<circle cx="514.8" cy="144.6" r="2.6"/>
<circle cx="515.5" cy="145.0" r="2.6"/>
<circle cx="516.4" cy="145.7" r="2.6"/>
<circle cx="520.1" cy="140.3" r="2.6"/>
<circle cx="520.6" cy="145.1" r="2.6"/>
<circle cx="520.6" cy="148.9" r="2.6"/>
<circle cx="519.0" cy="153.7" r="2.6"/>
<circle cx="519.6" cy="154.7" r="2.6"/>
<circle cx="527.0" cy="143.0" r="2.6"/>
<circle cx="527.0" cy="146.2" r="2.6"/>
<circle cx="527.0" cy="149.4" r="2.6"/>
<circle cx="527.0" cy="152.6" r="2.6"/>
<circle cx="522.2" cy="159.5" r="2.6"/>
<circle cx="526.0" cy="161.1" r="2.6"/>
<circle cx="530.2" cy="159.0" r="2.6"/>
<circle cx="511.6" cy="160.0" r="2.6"/>
<circle cx="514.3" cy="162.2" r="2.6"/>
<circle cx="489.7" cy="116.8" r="2.6"/>
<circle cx="489.7" cy="121.6" r="2.6"/>
<circle cx="489.2" cy="128.0" r="2.6"/>
<circle cx="489.6" cy="128.8" r="2.6"/>
<circle cx="488.7" cy="129.6" r="2.6"/>
<circle cx="495.1" cy="115.2" r="2.6"/>
<circle cx="495.5" cy="115.8" r="2.6"/>
<circle cx="494.5" cy="120.0" r="2.6"/>
<circle cx="494.5" cy="134.4" r="2.6"/>
<circle cx="494.9" cy="135.0" r="2.6"/>
<circle cx="496.1" cy="138.7" r="2.6"/>
<circle cx="499.3" cy="114.1" r="2.6"/>
<circle cx="499.9" cy="123.2" r="2.6"/>
<circle cx="499.9" cy="128.0" r="2.6"/>
<circle cx="502.0" cy="118.9" r="2.6"/>
<circle cx="505.7" cy="122.7" r="2.6"/>
<circle cx="506.3" cy="114.7" r="2.6"/>
<circle cx="506.8" cy="131.7" r="2.6"/>
<circle cx="507.2" cy="132.3" r="2.6"/>
<circle cx="505.2" cy="135.5" r="2.6"/>
<circle cx="505.6" cy="136.0" r="2.6"/>
<circle cx="508.9" cy="134.4" r="2.6"/>
<circle cx="509.3" cy="135.0" r="2.6"/>
<circle cx="510.5" cy="129.1" r="2.6"/>
<circle cx="510.0" cy="118.4" r="2.6"/>
<circle cx="514.8" cy="117.9" r="2.6"/>
<circle cx="515.9" cy="120.0" r="2.6"/>
<circle cx="518.0" cy="118.9" r="2.6"/>
<circle cx="515.9" cy="125.3" r="2.6"/>
<circle cx="515.3" cy="128.0" r="2.6"/>
<circle cx="514.3" cy="112.0" r="2.6"/>
<circle cx="519.0" cy="132.8" r="2.6"/>
<circle cx="516.9" cy="135.5" r="2.6"/>
<circle cx="521.7" cy="128.0" r="2.6"/>
<circle cx="523.8" cy="133.3" r="2.6"/>
<circle cx="523.8" cy="115.7" r="2.6"/>
<circle cx="525.4" cy="121.6" r="2.6"/>
<circle cx="528.6" cy="124.8" r="2.6"/>
<circle cx="529.7" cy="113.6" r="2.6"/>
<circle cx="527.0" cy="140.8" r="2.6"/>
<circle cx="502.0" cy="128.5" r="2.6"/>
<circle cx="503.0" cy="133.3" r="2.6"/>
<circle cx="500.9" cy="136.5" r="2.6"/>
<circle cx="512.1" cy="138.7" r="2.6"/>
<circle cx="415.5" cy="231.2" r="2.6"/>
<circle cx="415.5" cy="224.8" r="2.6"/>
<circle cx="415.5" cy="221.1" r="2.6"/>
<circle cx="415.5" cy="218.5" r="2.6"/>
<circle cx="415.5" cy="216.4" r="2.6"/>
<circle cx="415.5" cy="214.8" r="2.6"/>
<circle cx="415.5" cy="213.3" r="2.6"/>
<circle cx="415.5" cy="212.1" r="2.6"/>
<circle cx="415.5" cy="211.0" r="2.6"/>
<circle cx="415.5" cy="210.1" r="2.6"/>
<circle cx="415.5" cy="209.2" r="2.6"/>
<circle cx="415.5" cy="208.4" r="2.6"/>
<circle cx="415.5" cy="207.7" r="2.6"/>
<circle cx="415.5" cy="206.3" r="2.6"/>
<circle cx="415.5" cy="205.7" r="2.6"/>
<circle cx="415.5" cy="205.2" r="2.6"/>
<circle cx="415.5" cy="204.2" r="2.6"/>
<circle cx="415.5" cy="203.7" r="2.6"/>
<circle cx="415.5" cy="202.4" r="2.6"/>
<circle cx="415.5" cy="201.7" r="2.6"/>
<circle cx="415.5" cy="200.9" r="2.6"/>
<circle cx="415.5" cy="200.6" r="2.6"/>
<circle cx="415.5" cy="200.0" r="2.6"/>
<circle cx="415.5" cy="199.1" r="2.6"/>
<circle cx="415.5" cy="198.6" r="2.6"/>
<circle cx="415.5" cy="198.1" r="2.6"/>
<circle cx="415.5" cy="197.6" r="2.6"/>
<circle cx="415.5" cy="197.1" r="2.6"/>
<circle cx="415.5" cy="196.7" r="2.6"/>
<circle cx="415.5" cy="196.1" r="2.6"/>
<circle cx="415.5" cy="195.7" r="2.6"/>
<circle cx="415.5" cy="195.1" r="2.6"/>
<circle cx="415.5" cy="194.6" r="2.6"/>
<circle cx="415.5" cy="194.2" r="2.6"/>
<circle cx="415.5" cy="193.6" r="2.6"/>
<circle cx="415.5" cy="193.2" r="2.6"/>
<circle cx="415.5" cy="192.7" r="2.6"/>
<circle cx="415.5" cy="192.2" r="2.6"/>
<circle cx="415.5" cy="191.7" r="2.6"/>
<circle cx="415.5" cy="191.2" r="2.6"/>
<circle cx="415.5" cy="190.7" r="2.6"/>
<circle cx="415.5" cy="190.2" r="2.6"/>
<circle cx="415.5" cy="189.7" r="2.6"/>
<circle cx="415.5" cy="189.2" r="2.6"/>
<circle cx="415.5" cy="188.7" r="2.6"/>
<circle cx="415.5" cy="188.2" r="2.6"/>
<circle cx="415.5" cy="187.7" r="2.6"/>
<circle cx="415.5" cy="187.2" r="2.6"/>
<circle cx="415.5" cy="186.7" r="2.6"/>
<circle cx="415.5" cy="186.2" r="2.6"/>
<circle cx="415.5" cy="185.7" r="2.6"/>
<circle cx="415.5" cy="185.2" r="2.6"/>
<circle cx="415.5" cy="184.7" r="2.6"/>
<circle cx="415.5" cy="184.2" r="2.6"/>
<circle cx="415.5" cy="183.7" r="2.6"/>
<circle cx="415.5" cy="183.2" r="2.6"/>
<circle cx="415.5" cy="182.7" r="2.6"/>
<circle cx="415.5" cy="182.2" r="2.6"/>
<circle cx="415.5" cy="181.7" r="2.6"/>
<circle cx="415.5" cy="181.2" r="2.6"/>
<circle cx="415.5" cy="180.7" r="2.6"/>
<circle cx="415.5" cy="180.2" r="2.6"/>
<circle cx="415.5" cy="179.7" r="2.6"/>
<circle cx="415.5" cy="179.2" r="2.6"/>
<circle cx="415.5" cy="178.7" r="2.6"/>
<circle cx="415.5" cy="178.2" r="2.6"/>
<circle cx="415.5" cy="177.7" r="2.6"/>
<circle cx="415.5" cy="177.2" r="2.6"/>
<circle cx="415.5" cy="176.7" r="2.6"/>
<circle cx="415.5" cy="176.2" r="2.6"/>
<circle cx="415.5" cy="175.7" r="2.6"/>
<circle cx="415.5" cy="175.2" r="2.6"/>
<circle cx="415.5" cy="174.7" r="2.6"/>
<circle cx="415.5" cy="174.2" r="2.6"/>
<circle cx="415.5" cy="173.7" r="2.6"/>
<circle cx="415.5" cy="173.2" r="2.6"/>
<circle cx="415.5" cy="172.7" r="2.6"/>
<circle cx="415.5" cy="172.2" r="2.6"/>
<circle cx="415.5" cy="171.7" r="2.6"/>
<circle cx="415.5" cy="171.2" r="2.6"/>
<circle cx="415.5" cy="170.7" r="2.6"/>
<circle cx="415.5" cy="170.2" r="2.6"/>
<circle cx="415.5" cy="169.7" r="2.6"/>
<circle cx="415.5" cy="169.2" r="2.6"/>
<circle cx="415.5" cy="168.7" r="2.6"/>
<circle cx="415.5" cy="168.2" r="2.6"/>
<circle cx="415.5" cy="167.7" r="2.6"/>
<circle cx="415.5" cy="167.2" r="2.6"/>
<circle cx="415.5" cy="166.7" r="2.6"/>
<circle cx="415.5" cy="166.2" r="2.6"/>
<circle cx="415.5" cy="165.7" r="2.6"/>
<circle cx="415.5" cy="165.2" r="2.6"/>
<circle cx="415.5" cy="164.7" r="2.6"/>
<circle cx="415.5" cy="164.2" r="2.6"/>
<circle cx="415.5" cy="163.7" r="2.6"/>
<circle cx="415.5" cy="163.2" r="2.6"/>
<circle cx="415.5" cy="162.7" r="2.6"/>
<circle cx="415.5" cy="162.2" r="2.6"/>
<circle cx="415.5" cy="161.7" r="2.6"/>
<circle cx="415.5" cy="161.2" r="2.6"/>
<circle cx="415.5" cy="160.7" r="2.6"/>
<circle cx="415.5" cy="160.2" r="2.6"/>
<circle cx="415.5" cy="159.7" r="2.6"/>
<circle cx="415.5" cy="159.2" r="2.6"/>
<circle cx="415.5" cy="158.7" r="2.6"/>
<circle cx="415.5" cy="158.2" r="2.6"/>
<circle cx="415.5" cy="157.7" r="2.6"/>
<circle cx="415.5" cy="157.2" r="2.6"/>
<circle cx="415.5" cy="156.7" r="2.6"/>
<circle cx="415.5" cy="156.2" r="2.6"/>
<circle cx="415.5" cy="155.7" r="2.6"/>
<circle cx="415.5" cy="155.2" r="2.6"/>
<circle cx="415.5" cy="154.7" r="2.6"/>
<circle cx="415.5" cy="154.2" r="2.6"/>
<circle cx="415.5" cy="153.7" r="2.6"/>
<circle cx="415.5" cy="153.2" r="2.6"/>
<circle cx="415.5" cy="152.7" r="2.6"/>
<circle cx="415.5" cy="152.2" r="2.6"/>
<circle cx="415.5" cy="151.7" r="2.6"/>
<circle cx="415.5" cy="151.2" r="2.6"/>
<circle cx="415.5" cy="150.7" r="2.6"/>
<circle cx="415.5" cy="150.2" r="2.6"/>
<circle cx="415.5" cy="149.7" r="2.6"/>
<circle cx="415.5" cy="149.2" r="2.6"/>
<circle cx="415.5" cy="148.7" r="2.6"/>
<circle cx="415.5" cy="148.2" r="2.6"/>
<circle cx="415.5" cy="147.7" r="2.6"/>
<circle cx="415.5" cy="147.2" r="2.6"/>
<circle cx="415.5" cy="146.7" r="2.6"/>
<circle cx="415.5" cy="146.2" r="2.6"/>
<circle cx="415.5" cy="145.7" r="2.6"/>
<circle cx="415.5" cy="145.2" r="2.6"/>
<circle cx="415.5" cy="144.7" r="2.6"/>
<circle cx="415.5" cy="144.2" r="2.6"/>
<circle cx="415.5" cy="143.7" r="2.6"/>
<circle cx="415.5" cy="143.2" r="2.6"/>
<circle cx="415.5" cy="142.7" r="2.6"/>
<circle cx="415.5" cy="142.2" r="2.6"/>
<circle cx="415.5" cy="141.7" r="2.6"/>
<circle cx="415.5" cy="141.2" r="2.6"/>
<circle cx="415.5" cy="140.7" r="2.6"/>
<circle cx="415.5" cy="140.2" r="2.6"/>
<circle cx="415.5" cy="139.7" r="2.6"/>
<circle cx="415.5" cy="137.7" r="2.6"/>
<circle cx="415.5" cy="137.2" r="2.6"/>
<circle cx="415.5" cy="135.7" r="2.6"/>
<circle cx="415.5" cy="134.7" r="2.6"/>
<circle cx="415.5" cy="131.2" r="2.6"/>
<circle cx="415.5" cy="128.7" r="2.6"/>
<circle cx="415.5" cy="128.0" r="2.6"/>
<circle cx="431.7" cy="231.2" r="2.6"/>
<circle cx="431.7" cy="224.8" r="2.6"/>
<circle cx="431.7" cy="221.1" r="2.6"/>
<circle cx="431.7" cy="218.5" r="2.6"/>
<circle cx="431.7" cy="216.4" r="2.6"/>
<circle cx="431.7" cy="214.8" r="2.6"/>
<circle cx="431.7" cy="213.3" r="2.6"/>
<circle cx="431.7" cy="212.1" r="2.6"/>
<circle cx="431.7" cy="211.0" r="2.6"/>
<circle cx="431.7" cy="210.1" r="2.6"/>
<circle cx="431.7" cy="209.2" r="2.6"/>
<circle cx="431.7" cy="208.4" r="2.6"/>
<circle cx="431.7" cy="207.7" r="2.6"/>
<circle cx="431.7" cy="207.0" r="2.6"/>
<circle cx="431.7" cy="205.7" r="2.6"/>
<circle cx="431.7" cy="203.7" r="2.6"/>
<circle cx="431.7" cy="202.8" r="2.6"/>
<circle cx="431.7" cy="202.4" r="2.6"/>
<circle cx="431.7" cy="202.0" r="2.6"/>
<circle cx="431.7" cy="201.7" r="2.6"/>
<circle cx="431.7" cy="200.9" r="2.6"/>
<circle cx="431.7" cy="199.7" r="2.6"/>
<circle cx="431.7" cy="199.1" r="2.6"/>
<circle cx="431.7" cy="198.6" r="2.6"/>
<circle cx="431.7" cy="198.1" r="2.6"/>
<circle cx="431.7" cy="197.6" r="2.6"/>
<circle cx="431.7" cy="197.1" r="2.6"/>
<circle cx="431.7" cy="196.7" r="2.6"/>
<circle cx="431.7" cy="196.1" r="2.6"/>
<circle cx="431.7" cy="195.7" r="2.6"/>
<circle cx="431.7" cy="195.1" r="2.6"/>
<circle cx="431.7" cy="194.6" r="2.6"/>
<circle cx="431.7" cy="194.2" r="2.6"/>
<circle cx="431.7" cy="193.6" r="2.6"/>
<circle cx="431.7" cy="193.2" r="2.6"/>
<circle cx="431.7" cy="192.7" r="2.6"/>
<circle cx="431.7" cy="192.2" r="2.6"/>
<circle cx="431.7" cy="191.7" r="2.6"/>
<circle cx="431.7" cy="191.2" r="2.6"/>
<circle cx="431.7" cy="190.7" r="2.6"/>
<circle cx="431.7" cy="190.2" r="2.6"/>
<circle cx="431.7" cy="189.7" r="2.6"/>
<circle cx="431.7" cy="189.2" r="2.6"/>
<circle cx="431.7" cy="188.7" r="2.6"/>
<circle cx="431.7" cy="188.2" r="2.6"/>
<circle cx="431.7" cy="187.7" r="2.6"/>
<circle cx="431.7" cy="187.2" r="2.6"/>
<circle cx="431.7" cy="186.7" r="2.6"/>
<circle cx="431.7" cy="186.2" r="2.6"/>
<circle cx="431.7" cy="185.7" r="2.6"/>
<circle cx="431.7" cy="185.2" r="2.6"/>
<circle cx="431.7" cy="184.7" r="2.6"/>
<circle cx="431.7" cy="184.2" r="2.6"/>
<circle cx="431.7" cy="183.7" r="2.6"/>
<circle cx="431.7" cy="183.2" r="2.6"/>
<circle cx="431.7" cy="182.7" r="2.6"/>
<circle cx="431.7" cy="182.2" r="2.6"/>
<circle cx="431.7" cy="181.7" r="2.6"/>
<circle cx="431.7" cy="181.2" r="2.6"/>
<circle cx="431.7" cy="180.7" r="2.6"/>
<circle cx="431.7" cy="180.2" r="2.6"/>
<circle cx="431.7" cy="179.7" r="2.6"/>
<circle cx="431.7" cy="179.2" r="2.6"/>
<circle cx="431.7" cy="178.7" r="2.6"/>
<circle cx="431.7" cy="178.2" r="2.6"/>
<circle cx="431.7" cy="177.7" r="2.6"/>
<circle cx="431.7" cy="177.2" r="2.6"/>
<circle cx="431.7" cy="176.7" r="2.6"/>
<circle cx="431.7" cy="176.2" r="2.6"/>
<circle cx="431.7" cy="175.7" r="2.6"/>
<circle cx="431.7" cy="175.2" r="2.6"/>
<circle cx="431.7" cy="174.7" r="2.6"/>
<circle cx="431.7" cy="174.2" r="2.6"/>
<circle cx="431.7" cy="173.7" r="2.6"/>
<circle cx="431.7" cy="173.2" r="2.6"/>
<circle cx="431.7" cy="172.7" r="2.6"/>
<circle cx="431.7" cy="172.2" r="2.6"/>
<circle cx="431.7" cy="171.7" r="2.6"/>
<circle cx="431.7" cy="171.2" r="2.6"/>
<circle cx="431.7" cy="170.7" r="2.6"/>
<circle cx="431.7" cy="170.2" r="2.6"/>
<circle cx="431.7" cy="169.7" r="2.6"/>
<circle cx="431.7" cy="169.2" r="2.6"/>
<circle cx="431.7" cy="168.7" r="2.6"/>
<circle cx="431.7" cy="168.2" r="2.6"/>
<circle cx="431.7" cy="167.7" r="2.6"/>
<circle cx="431.7" cy="167.2" r="2.6"/>
<circle cx="431.7" cy="166.7" r="2.6"/>
<circle cx="431.7" cy="166.2" r="2.6"/>
<circle cx="431.7" cy="165.7" r="2.6"/>
<circle cx="431.7" cy="165.2" r="2.6"/>
<circle cx="431.7" cy="164.7" r="2.6"/>
<circle cx="431.7" cy="164.2" r="2.6"/>
<circle cx="431.7" cy="163.7" r="2.6"/>
<circle cx="431.7" cy="163.2" r="2.6"/>
<circle cx="431.7" cy="162.7" r="2.6"/>
<circle cx="431.7" cy="162.2" r="2.6"/>
<circle cx="431.7" cy="161.7" r="2.6"/>
<circle cx="431.7" cy="161.2" r="2.6"/>
<circle cx="431.7" cy="160.7" r="2.6"/>
<circle cx="431.7" cy="160.2" r="2.6"/>
<circle cx="431.7" cy="159.7" r="2.6"/>
<circle cx="431.7" cy="159.2" r="2.6"/>
<circle cx="431.7" cy="158.7" r="2.6"/>
<circle cx="431.7" cy="158.2" r="2.6"/>
<circle cx="431.7" cy="157.7" r="2.6"/>
<circle cx="431.7" cy="157.2" r="2.6"/>
<circle cx="431.7" cy="156.7" r="2.6"/>
<circle cx="431.7" cy="156.2" r="2.6"/>
<circle cx="431.7" cy="155.7" r="2.6"/>
<circle cx="431.7" cy="155.2" r="2.6"/>
<circle cx="431.7" cy="154.7" r="2.6"/>
<circle cx="431.7" cy="154.2" r="2.6"/>
<circle cx="431.7" cy="153.7" r="2.6"/>
<circle cx="431.7" cy="153.2" r="2.6"/>
<circle cx="431.7" cy="152.7" r="2.6"/>
<circle cx="431.7" cy="152.2" r="2.6"/>
<circle cx="431.7" cy="151.7" r="2.6"/>
<circle cx="431.7" cy="151.2" r="2.6"/>
<circle cx="431.7" cy="150.7" r="2.6"/>
<circle cx="431.7" cy="150.2" r="2.6"/>
<circle cx="431.7" cy="149.7" r="2.6"/>
<circle cx="431.7" cy="149.2" r="2.6"/>
<circle cx="431.7" cy="148.7" r="2.6"/>
<circle cx="431.7" cy="148.2" r="2.6"/>
<circle cx="431.7" cy="147.7" r="2.6"/>
<circle cx="431.7" cy="147.2" r="2.6"/>
<circle cx="431.7" cy="146.7" r="2.6"/>
<circle cx="431.7" cy="146.2" r="2.6"/>
<circle cx="431.7" cy="145.7" r="2.6"/>
<circle cx="431.7" cy="145.2" r="2.6"/>
<circle cx="431.7" cy="142.2" r="2.6"/>
<circle cx="431.7" cy="140.2" r="2.6"/>
<circle cx="431.7" cy="138.7" r="2.6"/>
<circle cx="431.7" cy="137.2" r="2.6"/>
<circle cx="431.7" cy="135.2" r="2.6"/>
<circle cx="431.7" cy="133.2" r="2.6"/>
<circle cx="431.7" cy="132.7" r="2.6"/>
<circle cx="431.7" cy="132.2" r="2.6"/>
<circle cx="431.7" cy="131.2" r="2.6"/>
<circle cx="431.7" cy="130.7" r="2.6"/>
<circle cx="431.7" cy="128.7" r="2.6"/>
<circle cx="431.7" cy="128.2" r="2.6"/>
<circle cx="431.7" cy="126.2" r="2.6"/>
<circle cx="431.7" cy="125.7" r="2.6"/>
<circle cx="431.7" cy="124.2" r="2.6"/>
<circle cx="431.7" cy="122.2" r="2.6"/>
<circle cx="431.7" cy="121.2" r="2.6"/>
<circle cx="431.7" cy="119.5" r="2.6"/>
<circle cx="441.2" cy="231.2" r="2.6"/>
<circle cx="441.2" cy="224.8" r="2.6"/>
<circle cx="441.2" cy="221.1" r="2.6"/>
<circle cx="441.2" cy="218.5" r="2.6"/>
<circle cx="441.2" cy="216.4" r="2.6"/>
<circle cx="441.2" cy="214.8" r="2.6"/>
<circle cx="441.2" cy="213.3" r="2.6"/>
<circle cx="441.2" cy="212.1" r="2.6"/>
<circle cx="441.2" cy="211.0" r="2.6"/>
<circle cx="441.2" cy="210.1" r="2.6"/>
<circle cx="441.2" cy="209.2" r="2.6"/>
<circle cx="441.2" cy="208.4" r="2.6"/>
<circle cx="441.2" cy="207.7" r="2.6"/>
<circle cx="441.2" cy="206.3" r="2.6"/>
<circle cx="441.2" cy="205.2" r="2.6"/>
<circle cx="441.2" cy="204.7" r="2.6"/>
<circle cx="441.2" cy="204.2" r="2.6"/>
<circle cx="441.2" cy="203.7" r="2.6"/>
<circle cx="441.2" cy="202.8" r="2.6"/>
<circle cx="441.2" cy="201.7" r="2.6"/>
<circle cx="441.2" cy="200.9" r="2.6"/>
<circle cx="441.2" cy="200.0" r="2.6"/>
<circle cx="441.2" cy="199.1" r="2.6"/>
<circle cx="441.2" cy="198.6" r="2.6"/>
<circle cx="441.2" cy="197.6" r="2.6"/>
<circle cx="441.2" cy="197.1" r="2.6"/>
<circle cx="441.2" cy="196.7" r="2.6"/>
<circle cx="441.2" cy="196.1" r="2.6"/>
<circle cx="441.2" cy="195.7" r="2.6"/>
<circle cx="441.2" cy="195.1" r="2.6"/>
<circle cx="441.2" cy="194.6" r="2.6"/>
<circle cx="441.2" cy="194.2" r="2.6"/>
<circle cx="441.2" cy="193.6" r="2.6"/>
<circle cx="441.2" cy="193.2" r="2.6"/>
<circle cx="441.2" cy="192.7" r="2.6"/>
<circle cx="441.2" cy="192.2" r="2.6"/>
<circle cx="441.2" cy="191.7" r="2.6"/>
<circle cx="441.2" cy="191.2" r="2.6"/>
<circle cx="441.2" cy="190.7" r="2.6"/>
<circle cx="441.2" cy="190.2" r="2.6"/>
<circle cx="441.2" cy="189.7" r="2.6"/>
<circle cx="441.2" cy="189.2" r="2.6"/>
<circle cx="441.2" cy="188.7" r="2.6"/>
<circle cx="441.2" cy="188.2" r="2.6"/>
<circle cx="441.2" cy="187.7" r="2.6"/>
<circle cx="441.2" cy="187.2" r="2.6"/>
<circle cx="441.2" cy="186.7" r="2.6"/>
<circle cx="441.2" cy="186.2" r="2.6"/>
<circle cx="441.2" cy="185.7" r="2.6"/>
<circle cx="441.2" cy="185.2" r="2.6"/>
<circle cx="441.2" cy="184.7" r="2.6"/>
<circle cx="441.2" cy="184.2" r="2.6"/>
<circle cx="441.2" cy="183.7" r="2.6"/>
<circle cx="441.2" cy="183.2" r="2.6"/>
<circle cx="441.2" cy="182.7" r="2.6"/>
<circle cx="441.2" cy="182.2" r="2.6"/>
<circle cx="441.2" cy="181.7" r="2.6"/>
<circle cx="441.2" cy="181.2" r="2.6"/>
<circle cx="441.2" cy="180.7" r="2.6"/>
<circle cx="441.2" cy="180.2" r="2.6"/>
<circle cx="441.2" cy="179.7" r="2.6"/>
<circle cx="441.2" cy="179.2" r="2.6"/>
<circle cx="441.2" cy="178.7" r="2.6"/>
<circle cx="441.2" cy="178.2" r="2.6"/>
<circle cx="441.2" cy="177.7" r="2.6"/>
<circle cx="441.2" cy="177.2" r="2.6"/>
<circle cx="441.2" cy="176.7" r="2.6"/>
<circle cx="441.2" cy="176.2" r="2.6"/>
<circle cx="441.2" cy="175.7" r="2.6"/>
<circle cx="441.2" cy="175.2" r="2.6"/>
<circle cx="441.2" cy="174.7" r="2.6"/>
<circle cx="441.2" cy="174.2" r="2.6"/>
<circle cx="441.2" cy="173.7" r="2.6"/>
<circle cx="441.2" cy="173.2" r="2.6"/>
<circle cx="441.2" cy="172.7" r="2.6"/>
<circle cx="441.2" cy="172.2" r="2.6"/>
<circle cx="441.2" cy="171.7" r="2.6"/>
<circle cx="441.2" cy="171.2" r="2.6"/>
<circle cx="441.2" cy="170.7" r="2.6"/>
<circle cx="441.2" cy="170.2" r="2.6"/>
<circle cx="441.2" cy="169.7" r="2.6"/>
<circle cx="441.2" cy="169.2" r="2.6"/>
<circle cx="441.2" cy="168.7" r="2.6"/>
<circle cx="441.2" cy="168.2" r="2.6"/>
<circle cx="441.2" cy="167.7" r="2.6"/>
<circle cx="441.2" cy="167.2" r="2.6"/>
<circle cx="441.2" cy="166.7" r="2.6"/>
<circle cx="441.2" cy="166.2" r="2.6"/>
<circle cx="441.2" cy="165.7" r="2.6"/>
<circle cx="441.2" cy="165.2" r="2.6"/>
<circle cx="441.2" cy="164.7" r="2.6"/>
<circle cx="441.2" cy="159.7" r="2.6"/>
<circle cx="441.2" cy="159.2" r="2.6"/>
<circle cx="441.2" cy="158.7" r="2.6"/>
<circle cx="441.2" cy="157.7" r="2.6"/>
<circle cx="441.2" cy="154.2" r="2.6"/>
<circle cx="441.2" cy="143.2" r="2.6"/>
<circle cx="441.2" cy="142.7" r="2.6"/>
<circle cx="441.2" cy="140.2" r="2.6"/>
<circle cx="441.2" cy="139.7" r="2.6"/>
<circle cx="441.2" cy="135.2" r="2.6"/>
<circle cx="441.2" cy="134.2" r="2.6"/>
<circle cx="441.2" cy="132.7" r="2.6"/>
<circle cx="441.2" cy="129.0" r="2.6"/>
<circle cx="447.9" cy="231.2" r="2.6"/>
<circle cx="447.9" cy="224.8" r="2.6"/>
<circle cx="447.9" cy="221.1" r="2.6"/>
<circle cx="447.9" cy="218.5" r="2.6"/>
<circle cx="447.9" cy="216.4" r="2.6"/>
<circle cx="447.9" cy="214.8" r="2.6"/>
<circle cx="447.9" cy="213.3" r="2.6"/>
<circle cx="447.9" cy="208.4" r="2.6"/>
<circle cx="447.9" cy="207.0" r="2.6"/>
<circle cx="447.9" cy="206.3" r="2.6"/>
<circle cx="447.9" cy="205.7" r="2.6"/>
<circle cx="447.9" cy="205.2" r="2.6"/>
<circle cx="447.9" cy="204.7" r="2.6"/>
<circle cx="447.9" cy="204.2" r="2.6"/>
<circle cx="447.9" cy="203.7" r="2.6"/>
<circle cx="447.9" cy="202.8" r="2.6"/>
<circle cx="447.9" cy="202.4" r="2.6"/>
<circle cx="447.9" cy="201.7" r="2.6"/>
<circle cx="447.9" cy="200.0" r="2.6"/>
<circle cx="447.9" cy="198.1" r="2.6"/>
<circle cx="447.9" cy="197.6" r="2.6"/>
<circle cx="447.9" cy="197.1" r="2.6"/>
<circle cx="447.9" cy="196.1" r="2.6"/>
<circle cx="447.9" cy="195.7" r="2.6"/>
<circle cx="447.9" cy="195.1" r="2.6"/>
<circle cx="447.9" cy="194.6" r="2.6"/>
<circle cx="447.9" cy="194.2" r="2.6"/>
<circle cx="447.9" cy="193.6" r="2.6"/>
<circle cx="447.9" cy="192.7" r="2.6"/>
<circle cx="447.9" cy="191.7" r="2.6"/>
<circle cx="447.9" cy="191.2" r="2.6"/>
<circle cx="447.9" cy="190.7" r="2.6"/>
<circle cx="447.9" cy="190.2" r="2.6"/>
<circle cx="447.9" cy="189.7" r="2.6"/>
<circle cx="447.9" cy="186.2" r="2.6"/>
<circle cx="447.9" cy="185.2" r="2.6"/>
<circle cx="447.9" cy="184.2" r="2.6"/>
<circle cx="447.9" cy="182.7" r="2.6"/>
<circle cx="447.9" cy="182.2" r="2.6"/>
<circle cx="447.9" cy="181.2" r="2.6"/>
<circle cx="447.9" cy="180.7" r="2.6"/>
<circle cx="447.9" cy="180.2" r="2.6"/>
<circle cx="447.9" cy="179.7" r="2.6"/>
<circle cx="447.9" cy="178.2" r="2.6"/>
<circle cx="447.9" cy="177.2" r="2.6"/>
<circle cx="447.9" cy="176.7" r="2.6"/>
<circle cx="447.9" cy="176.2" r="2.6"/>
<circle cx="447.9" cy="175.7" r="2.6"/>
<circle cx="447.9" cy="175.2" r="2.6"/>
<circle cx="447.9" cy="174.7" r="2.6"/>
<circle cx="447.9" cy="173.7" r="2.6"/>
<circle cx="447.9" cy="173.2" r="2.6"/>
<circle cx="447.9" cy="171.7" r="2.6"/>
<circle cx="447.9" cy="171.2" r="2.6"/>
<circle cx="447.9" cy="170.7" r="2.6"/>
<circle cx="447.9" cy="170.2" r="2.6"/>
<circle cx="447.9" cy="169.7" r="2.6"/>
<circle cx="447.9" cy="169.2" r="2.6"/>
<circle cx="447.9" cy="168.7" r="2.6"/>
<circle cx="447.9" cy="168.2" r="2.6"/>
<circle cx="447.9" cy="167.7" r="2.6"/>
<circle cx="447.9" cy="166.2" r="2.6"/>
<circle cx="447.9" cy="165.7" r="2.6"/>
<circle cx="447.9" cy="165.2" r="2.6"/>
<circle cx="447.9" cy="164.7" r="2.6"/>
<circle cx="447.9" cy="164.2" r="2.6"/>
<circle cx="447.9" cy="163.7" r="2.6"/>
<circle cx="447.9" cy="163.2" r="2.6"/>
<circle cx="447.9" cy="162.2" r="2.6"/>
<circle cx="447.9" cy="161.7" r="2.6"/>
<circle cx="447.9" cy="160.2" r="2.6"/>
<circle cx="447.9" cy="159.7" r="2.6"/>
<circle cx="447.9" cy="159.2" r="2.6"/>
<circle cx="447.9" cy="158.7" r="2.6"/>
<circle cx="447.9" cy="158.2" r="2.6"/>
<circle cx="447.9" cy="156.2" r="2.6"/>
<circle cx="447.9" cy="155.7" r="2.6"/>
<circle cx="447.9" cy="154.2" r="2.6"/>
<circle cx="447.9" cy="153.7" r="2.6"/>
<circle cx="447.9" cy="153.2" r="2.6"/>
<circle cx="447.9" cy="152.7" r="2.6"/>
<circle cx="447.9" cy="150.2" r="2.6"/>
<circle cx="447.9" cy="149.7" r="2.6"/>
<circle cx="447.9" cy="149.2" r="2.6"/>
<circle cx="447.9" cy="148.7" r="2.6"/>
<circle cx="447.9" cy="145.7" r="2.6"/>
<circle cx="447.9" cy="145.2" r="2.6"/>
<circle cx="447.9" cy="144.7" r="2.6"/>
<circle cx="447.9" cy="143.7" r="2.6"/>
<circle cx="447.9" cy="142.2" r="2.6"/>
<circle cx="447.9" cy="141.7" r="2.6"/>
<circle cx="447.9" cy="141.2" r="2.6"/>
<circle cx="447.9" cy="139.7" r="2.6"/>
<circle cx="447.9" cy="139.2" r="2.6"/>
<circle cx="447.9" cy="138.7" r="2.6"/>
<circle cx="447.9" cy="138.2" r="2.6"/>
<circle cx="447.9" cy="137.7" r="2.6"/>
<circle cx="447.9" cy="137.2" r="2.6"/>
<circle cx="447.9" cy="136.2" r="2.6"/>
<circle cx="447.9" cy="135.7" r="2.6"/>
<circle cx="447.9" cy="135.2" r="2.6"/>
<circle cx="447.9" cy="133.2" r="2.6"/>
<circle cx="447.9" cy="132.7" r="2.6"/>
<circle cx="447.9" cy="132.2" r="2.6"/>
<circle cx="447.9" cy="130.7" r="2.6"/>
<circle cx="447.9" cy="130.2" r="2.6"/>
<circle cx="447.9" cy="129.7" r="2.6"/>
<circle cx="447.9" cy="128.7" r="2.6"/>
<circle cx="447.9" cy="128.2" r="2.6"/>
<circle cx="447.9" cy="126.7" r="2.6"/>
<circle cx="447.9" cy="126.2" r="2.6"/>
<circle cx="447.9" cy="125.7" r="2.6"/>
<circle cx="447.9" cy="125.2" r="2.6"/>
<circle cx="447.9" cy="124.2" r="2.6"/>
<circle cx="447.9" cy="121.5" r="2.6"/>
<circle cx="453.1" cy="195.1" r="2.6"/>
<circle cx="453.1" cy="192.2" r="2.6"/>
<circle cx="453.1" cy="183.2" r="2.6"/>
<circle cx="453.1" cy="180.7" r="2.6"/>
<circle cx="453.1" cy="173.7" r="2.6"/>
<circle cx="453.1" cy="171.2" r="2.6"/>
<circle cx="453.1" cy="158.7" r="2.6"/>
<circle cx="457.3" cy="231.2" r="2.6"/>
<circle cx="457.3" cy="221.1" r="2.6"/>
<circle cx="457.3" cy="218.5" r="2.6"/>
<circle cx="457.3" cy="212.1" r="2.6"/>
<circle cx="457.3" cy="211.0" r="2.6"/>
<circle cx="457.3" cy="210.1" r="2.6"/>
<circle cx="457.3" cy="209.2" r="2.6"/>
<circle cx="457.3" cy="207.7" r="2.6"/>
<circle cx="457.3" cy="206.3" r="2.6"/>
<circle cx="457.3" cy="205.2" r="2.6"/>
<circle cx="457.3" cy="204.7" r="2.6"/>
<circle cx="457.3" cy="202.8" r="2.6"/>
<circle cx="457.3" cy="202.4" r="2.6"/>
<circle cx="457.3" cy="201.7" r="2.6"/>
<circle cx="457.3" cy="200.9" r="2.6"/>
<circle cx="457.3" cy="200.6" r="2.6"/>
<circle cx="457.3" cy="200.0" r="2.6"/>
<circle cx="457.3" cy="199.7" r="2.6"/>
<circle cx="457.3" cy="199.1" r="2.6"/>
<circle cx="457.3" cy="198.1" r="2.6"/>
<circle cx="457.3" cy="197.6" r="2.6"/>
<circle cx="457.3" cy="197.1" r="2.6"/>
<circle cx="457.3" cy="196.1" r="2.6"/>
<circle cx="457.3" cy="195.7" r="2.6"/>
<circle cx="457.3" cy="195.1" r="2.6"/>
<circle cx="457.3" cy="194.2" r="2.6"/>
<circle cx="457.3" cy="193.6" r="2.6"/>
<circle cx="457.3" cy="193.2" r="2.6"/>
<circle cx="457.3" cy="192.7" r="2.6"/>
<circle cx="457.3" cy="192.2" r="2.6"/>
<circle cx="457.3" cy="191.2" r="2.6"/>
<circle cx="457.3" cy="190.7" r="2.6"/>
<circle cx="457.3" cy="189.7" r="2.6"/>
<circle cx="457.3" cy="189.2" r="2.6"/>
<circle cx="457.3" cy="188.7" r="2.6"/>
<circle cx="457.3" cy="187.7" r="2.6"/>
<circle cx="457.3" cy="187.2" r="2.6"/>
<circle cx="457.3" cy="186.7" r="2.6"/>
<circle cx="457.3" cy="186.2" r="2.6"/>
<circle cx="457.3" cy="184.7" r="2.6"/>
<circle cx="457.3" cy="184.2" r="2.6"/>
<circle cx="457.3" cy="183.2" r="2.6"/>
<circle cx="457.3" cy="182.7" r="2.6"/>
<circle cx="457.3" cy="181.7" r="2.6"/>
<circle cx="457.3" cy="180.7" r="2.6"/>
<circle cx="457.3" cy="179.7" r="2.6"/>
<circle cx="457.3" cy="179.2" r="2.6"/>
<circle cx="457.3" cy="178.7" r="2.6"/>
<circle cx="457.3" cy="178.2" r="2.6"/>
<circle cx="457.3" cy="176.7" r="2.6"/>
<circle cx="457.3" cy="175.7" r="2.6"/>
<circle cx="457.3" cy="175.2" r="2.6"/>
<circle cx="457.3" cy="174.7" r="2.6"/>
<circle cx="457.3" cy="174.2" r="2.6"/>
<circle cx="457.3" cy="173.7" r="2.6"/>
<circle cx="457.3" cy="172.7" r="2.6"/>
<circle cx="457.3" cy="172.2" r="2.6"/>
<circle cx="457.3" cy="170.7" r="2.6"/>
<circle cx="457.3" cy="170.2" r="2.6"/>
<circle cx="457.3" cy="168.7" r="2.6"/>
<circle cx="457.3" cy="168.2" r="2.6"/>
<circle cx="457.3" cy="167.2" r="2.6"/>
<circle cx="457.3" cy="165.2" r="2.6"/>
<circle cx="457.3" cy="164.2" r="2.6"/>
<circle cx="457.3" cy="163.7" r="2.6"/>
<circle cx="457.3" cy="162.2" r="2.6"/>
<circle cx="457.3" cy="161.7" r="2.6"/>
<circle cx="457.3" cy="161.2" r="2.6"/>
<circle cx="457.3" cy="160.7" r="2.6"/>
<circle cx="457.3" cy="160.2" r="2.6"/>
<circle cx="457.3" cy="159.7" r="2.6"/>
<circle cx="457.3" cy="159.2" r="2.6"/>
<circle cx="457.3" cy="157.7" r="2.6"/>
<circle cx="457.3" cy="157.2" r="2.6"/>
<circle cx="457.3" cy="156.2" r="2.6"/>
<circle cx="457.3" cy="155.2" r="2.6"/>
<circle cx="457.3" cy="154.7" r="2.6"/>
<circle cx="457.3" cy="154.2" r="2.6"/>
<circle cx="457.3" cy="153.2" r="2.6"/>
<circle cx="457.3" cy="152.7" r="2.6"/>
<circle cx="457.3" cy="152.2" r="2.6"/>
<circle cx="457.3" cy="151.7" r="2.6"/>
<circle cx="457.3" cy="150.7" r="2.6"/>
<circle cx="457.3" cy="150.2" r="2.6"/>
<circle cx="457.3" cy="149.7" r="2.6"/>
<circle cx="457.3" cy="148.7" r="2.6"/>
<circle cx="457.3" cy="148.2" r="2.6"/>
<circle cx="457.3" cy="146.7" r="2.6"/>
<circle cx="457.3" cy="146.2" r="2.6"/>
<circle cx="457.3" cy="145.7" r="2.6"/>
<circle cx="457.3" cy="145.2" r="2.6"/>
<circle cx="457.3" cy="144.7" r="2.6"/>
<circle cx="457.3" cy="144.2" r="2.6"/>
<circle cx="457.3" cy="143.7" r="2.6"/>
<circle cx="457.3" cy="143.2" r="2.6"/>
<circle cx="457.3" cy="142.7" r="2.6"/>
<circle cx="457.3" cy="142.2" r="2.6"/>
<circle cx="457.3" cy="141.2" r="2.6"/>
<circle cx="457.3" cy="139.2" r="2.6"/>
<circle cx="457.3" cy="137.2" r="2.6"/>
<circle cx="457.3" cy="134.7" r="2.6"/>
<circle cx="457.3" cy="132.2" r="2.6"/>
<circle cx="457.3" cy="130.7" r="2.6"/>
<circle cx="457.3" cy="129.2" r="2.6"/>
<circle cx="457.3" cy="128.2" r="2.6"/>
<circle cx="457.3" cy="127.2" r="2.6"/>
<circle cx="457.3" cy="125.7" r="2.6"/>
<circle cx="457.3" cy="125.2" r="2.6"/>
<circle cx="457.3" cy="124.2" r="2.6"/>
<circle cx="457.3" cy="123.7" r="2.6"/>
<circle cx="457.3" cy="123.2" r="2.6"/>
<circle cx="457.3" cy="122.7" r="2.6"/>
<circle cx="457.3" cy="120.7" r="2.6"/>
<circle cx="457.3" cy="119.7" r="2.6"/>
<circle cx="457.3" cy="115.7" r="2.6"/>
<circle cx="460.9" cy="209.2" r="2.6"/>
<circle cx="460.9" cy="204.2" r="2.6"/>
<circle cx="460.9" cy="203.7" r="2.6"/>
<circle cx="460.9" cy="199.1" r="2.6"/>
<circle cx="460.9" cy="198.6" r="2.6"/>
<circle cx="460.9" cy="188.7" r="2.6"/>
<circle cx="460.9" cy="183.7" r="2.6"/>
<circle cx="460.9" cy="180.7" r="2.6"/>
<circle cx="460.9" cy="174.7" r="2.6"/>
<circle cx="460.9" cy="172.7" r="2.6"/>
<circle cx="460.9" cy="168.2" r="2.6"/>
<circle cx="460.9" cy="160.2" r="2.6"/>
<circle cx="460.9" cy="146.2" r="2.6"/>
<circle cx="460.9" cy="143.7" r="2.6"/>
<circle cx="460.9" cy="143.2" r="2.6"/>
<circle cx="460.9" cy="134.2" r="2.6"/>
<circle cx="464.1" cy="221.1" r="2.6"/>
<circle cx="464.1" cy="218.5" r="2.6"/>
<circle cx="464.1" cy="216.4" r="2.6"/>
<circle cx="464.1" cy="214.8" r="2.6"/>
<circle cx="464.1" cy="213.3" r="2.6"/>
<circle cx="464.1" cy="212.1" r="2.6"/>
<circle cx="464.1" cy="210.1" r="2.6"/>
<circle cx="464.1" cy="209.2" r="2.6"/>
<circle cx="464.1" cy="205.7" r="2.6"/>
<circle cx="464.1" cy="205.2" r="2.6"/>
<circle cx="464.1" cy="202.0" r="2.6"/>
<circle cx="464.1" cy="200.9" r="2.6"/>
<circle cx="464.1" cy="200.0" r="2.6"/>
<circle cx="464.1" cy="199.7" r="2.6"/>
<circle cx="464.1" cy="199.1" r="2.6"/>
<circle cx="464.1" cy="197.6" r="2.6"/>
<circle cx="464.1" cy="195.7" r="2.6"/>
<circle cx="464.1" cy="193.6" r="2.6"/>
<circle cx="464.1" cy="192.7" r="2.6"/>
<circle cx="464.1" cy="192.2" r="2.6"/>
<circle cx="464.1" cy="190.7" r="2.6"/>
<circle cx="464.1" cy="189.7" r="2.6"/>
<circle cx="464.1" cy="185.2" r="2.6"/>
<circle cx="464.1" cy="184.2" r="2.6"/>
<circle cx="464.1" cy="183.7" r="2.6"/>
<circle cx="464.1" cy="183.2" r="2.6"/>
<circle cx="464.1" cy="180.7" r="2.6"/>
<circle cx="464.1" cy="176.7" r="2.6"/>
<circle cx="464.1" cy="174.7" r="2.6"/>
<circle cx="464.1" cy="172.7" r="2.6"/>
<circle cx="464.1" cy="171.2" r="2.6"/>
<circle cx="464.1" cy="170.7" r="2.6"/>
<circle cx="464.1" cy="168.7" r="2.6"/>
<circle cx="464.1" cy="168.2" r="2.6"/>
<circle cx="464.1" cy="167.7" r="2.6"/>
<circle cx="464.1" cy="166.2" r="2.6"/>
<circle cx="464.1" cy="165.2" r="2.6"/>
<circle cx="464.1" cy="163.7" r="2.6"/>
<circle cx="464.1" cy="162.7" r="2.6"/>
<circle cx="464.1" cy="159.7" r="2.6"/>
<circle cx="464.1" cy="158.7" r="2.6"/>
<circle cx="464.1" cy="158.2" r="2.6"/>
<circle cx="464.1" cy="157.2" r="2.6"/>
<circle cx="464.1" cy="153.7" r="2.6"/>
<circle cx="464.1" cy="149.2" r="2.6"/>
<circle cx="464.1" cy="143.7" r="2.6"/>
<circle cx="464.1" cy="141.2" r="2.6"/>
<circle cx="464.1" cy="137.7" r="2.6"/>
<circle cx="464.1" cy="134.7" r="2.6"/>
<circle cx="464.1" cy="133.7" r="2.6"/>
<circle cx="464.1" cy="131.7" r="2.6"/>
<circle cx="464.1" cy="126.7" r="2.6"/>
<circle cx="466.8" cy="224.8" r="2.6"/>
<circle cx="466.8" cy="218.5" r="2.6"/>
<circle cx="466.8" cy="216.4" r="2.6"/>
<circle cx="466.8" cy="212.1" r="2.6"/>
<circle cx="466.8" cy="207.0" r="2.6"/>
<circle cx="466.8" cy="204.7" r="2.6"/>
<circle cx="466.8" cy="202.8" r="2.6"/>
<circle cx="466.8" cy="202.4" r="2.6"/>
<circle cx="466.8" cy="199.7" r="2.6"/>
<circle cx="466.8" cy="195.1" r="2.6"/>
<circle cx="466.8" cy="191.2" r="2.6"/>
<circle cx="466.8" cy="190.7" r="2.6"/>
<circle cx="466.8" cy="189.2" r="2.6"/>
<circle cx="466.8" cy="184.7" r="2.6"/>
<circle cx="466.8" cy="182.7" r="2.6"/>
<circle cx="466.8" cy="181.2" r="2.6"/>
<circle cx="466.8" cy="180.7" r="2.6"/>
<circle cx="466.8" cy="178.7" r="2.6"/>
<circle cx="466.8" cy="178.2" r="2.6"/>
<circle cx="466.8" cy="177.7" r="2.6"/>
<circle cx="466.8" cy="176.2" r="2.6"/>
<circle cx="466.8" cy="174.7" r="2.6"/>
<circle cx="466.8" cy="170.7" r="2.6"/>
<circle cx="466.8" cy="166.7" r="2.6"/>
<circle cx="466.8" cy="166.2" r="2.6"/>
<circle cx="466.8" cy="165.2" r="2.6"/>
<circle cx="466.8" cy="164.2" r="2.6"/>
<circle cx="466.8" cy="161.7" r="2.6"/>
<circle cx="466.8" cy="157.2" r="2.6"/>
<circle cx="466.8" cy="155.7" r="2.6"/>
<circle cx="466.8" cy="151.2" r="2.6"/>
<circle cx="466.8" cy="146.7" r="2.6"/>
<circle cx="466.8" cy="136.7" r="2.6"/>
<circle cx="466.8" cy="134.7" r="2.6"/>
<circle cx="466.8" cy="133.7" r="2.6"/>
<circle cx="466.8" cy="133.2" r="2.6"/>
<circle cx="466.8" cy="127.2" r="2.6"/>
<circle cx="466.8" cy="125.2" r="2.6"/>
<circle cx="466.8" cy="124.7" r="2.6"/>
<circle cx="466.8" cy="124.2" r="2.6"/>
<circle cx="469.3" cy="205.2" r="2.6"/>
<circle cx="469.3" cy="202.0" r="2.6"/>
<circle cx="469.3" cy="196.7" r="2.6"/>
<circle cx="469.3" cy="196.1" r="2.6"/>
<circle cx="469.3" cy="192.7" r="2.6"/>
<circle cx="469.3" cy="183.7" r="2.6"/>
<circle cx="469.3" cy="183.2" r="2.6"/>
<circle cx="469.3" cy="161.2" r="2.6"/>
<circle cx="469.3" cy="158.2" r="2.6"/>
<circle cx="469.3" cy="135.7" r="2.6"/>
<circle cx="469.3" cy="130.7" r="2.6"/>
<circle cx="469.3" cy="130.2" r="2.6"/>
<circle cx="471.5" cy="207.7" r="2.6"/>
<circle cx="471.5" cy="194.2" r="2.6"/>
<circle cx="471.5" cy="191.2" r="2.6"/>
<circle cx="471.5" cy="180.2" r="2.6"/>
<circle cx="471.5" cy="178.7" r="2.6"/>
<circle cx="471.5" cy="151.2" r="2.6"/>
<circle cx="471.5" cy="149.2" r="2.6"/>
<circle cx="471.5" cy="132.2" r="2.6"/>
<circle cx="471.5" cy="126.7" r="2.6"/>
<circle cx="473.5" cy="231.2" r="2.6"/>
<circle cx="473.5" cy="201.7" r="2.6"/>
<circle cx="473.5" cy="200.6" r="2.6"/>
<circle cx="473.5" cy="199.7" r="2.6"/>
<circle cx="473.5" cy="196.1" r="2.6"/>
<circle cx="473.5" cy="195.1" r="2.6"/>
<circle cx="473.5" cy="194.6" r="2.6"/>
<circle cx="473.5" cy="194.2" r="2.6"/>
<circle cx="473.5" cy="193.6" r="2.6"/>
<circle cx="473.5" cy="192.7" r="2.6"/>
<circle cx="473.5" cy="192.2" r="2.6"/>
<circle cx="473.5" cy="191.2" r="2.6"/>
<circle cx="473.5" cy="190.7" r="2.6"/>
<circle cx="473.5" cy="188.2" r="2.6"/>
<circle cx="473.5" cy="186.7" r="2.6"/>
<circle cx="473.5" cy="186.2" r="2.6"/>
<circle cx="473.5" cy="184.7" r="2.6"/>
<circle cx="473.5" cy="184.2" r="2.6"/>
<circle cx="473.5" cy="183.7" r="2.6"/>
<circle cx="473.5" cy="183.2" r="2.6"/>
<circle cx="473.5" cy="181.7" r="2.6"/>
<circle cx="473.5" cy="180.2" r="2.6"/>
<circle cx="473.5" cy="178.7" r="2.6"/>
<circle cx="473.5" cy="176.7" r="2.6"/>
<circle cx="473.5" cy="175.2" r="2.6"/>
<circle cx="473.5" cy="174.7" r="2.6"/>
<circle cx="473.5" cy="174.2" r="2.6"/>
<circle cx="473.5" cy="170.7" r="2.6"/>
<circle cx="473.5" cy="168.7" r="2.6"/>
<circle cx="473.5" cy="167.2" r="2.6"/>
<circle cx="473.5" cy="166.2" r="2.6"/>
<circle cx="473.5" cy="164.7" r="2.6"/>
<circle cx="473.5" cy="164.2" r="2.6"/>
<circle cx="473.5" cy="160.2" r="2.6"/>
<circle cx="473.5" cy="159.2" r="2.6"/>
<circle cx="473.5" cy="158.2" r="2.6"/>
<circle cx="473.5" cy="156.2" r="2.6"/>
<circle cx="473.5" cy="154.2" r="2.6"/>
<circle cx="473.5" cy="153.7" r="2.6"/>
<circle cx="473.5" cy="152.7" r="2.6"/>
<circle cx="473.5" cy="150.7" r="2.6"/>
<circle cx="473.5" cy="149.2" r="2.6"/>
<circle cx="473.5" cy="148.7" r="2.6"/>
<circle cx="473.5" cy="148.2" r="2.6"/>
<circle cx="473.5" cy="147.7" r="2.6"/>
<circle cx="473.5" cy="147.2" r="2.6"/>
<circle cx="473.5" cy="146.7" r="2.6"/>
<circle cx="473.5" cy="146.2" r="2.6"/>
<circle cx="473.5" cy="145.7" r="2.6"/>
<circle cx="473.5" cy="142.7" r="2.6"/>
<circle cx="473.5" cy="139.7" r="2.6"/>
<circle cx="473.5" cy="139.2" r="2.6"/>
<circle cx="473.5" cy="138.7" r="2.6"/>
<circle cx="473.5" cy="137.7" r="2.6"/>
<circle cx="473.5" cy="136.7" r="2.6"/>
<circle cx="473.5" cy="136.2" r="2.6"/>
<circle cx="473.5" cy="135.2" r="2.6"/>
<circle cx="473.5" cy="133.7" r="2.6"/>
<circle cx="473.5" cy="132.7" r="2.6"/>
<circle cx="473.5" cy="131.7" r="2.6"/>
<circle cx="473.5" cy="131.2" r="2.6"/>
<circle cx="473.5" cy="129.7" r="2.6"/>
<circle cx="473.5" cy="129.2" r="2.6"/>
<circle cx="473.5" cy="127.7" r="2.6"/>
<circle cx="473.5" cy="127.2" r="2.6"/>
<circle cx="473.5" cy="125.7" r="2.6"/>
<circle cx="473.5" cy="125.2" r="2.6"/>
<circle cx="473.5" cy="124.7" r="2.6"/>
<circle cx="475.4" cy="199.1" r="2.6"/>
<circle cx="475.4" cy="180.7" r="2.6"/>
<circle cx="475.4" cy="150.7" r="2.6"/>
<circle cx="475.4" cy="138.2" r="2.6"/>
<circle cx="477.1" cy="161.7" r="2.6"/>
<circle cx="477.1" cy="145.2" r="2.6"/>
<circle cx="478.8" cy="191.7" r="2.6"/>
<circle cx="478.8" cy="186.7" r="2.6"/>
<circle cx="478.8" cy="186.2" r="2.6"/>
<circle cx="478.8" cy="184.7" r="2.6"/>
<circle cx="478.8" cy="182.7" r="2.6"/>
<circle cx="478.8" cy="180.2" r="2.6"/>
<circle cx="478.8" cy="175.7" r="2.6"/>
<circle cx="478.8" cy="165.2" r="2.6"/>
<circle cx="478.8" cy="159.2" r="2.6"/>
<circle cx="478.8" cy="156.7" r="2.6"/>
<circle cx="478.8" cy="156.2" r="2.6"/>
<circle cx="478.8" cy="154.2" r="2.6"/>
<circle cx="478.8" cy="144.2" r="2.6"/>
<circle cx="478.8" cy="139.2" r="2.6"/>
<circle cx="478.8" cy="133.7" r="2.6"/>
<circle cx="478.8" cy="131.7" r="2.6"/>
<circle cx="478.8" cy="124.2" r="2.6"/>
<circle cx="480.3" cy="204.2" r="2.6"/>
<circle cx="480.3" cy="202.8" r="2.6"/>
<circle cx="480.3" cy="200.0" r="2.6"/>
<circle cx="480.3" cy="198.6" r="2.6"/>
<circle cx="480.3" cy="197.1" r="2.6"/>
<circle cx="480.3" cy="195.1" r="2.6"/>
<circle cx="480.3" cy="194.2" r="2.6"/>
<circle cx="480.3" cy="193.6" r="2.6"/>
<circle cx="480.3" cy="192.7" r="2.6"/>
<circle cx="480.3" cy="191.7" r="2.6"/>
<circle cx="480.3" cy="186.7" r="2.6"/>
<circle cx="480.3" cy="183.7" r="2.6"/>
<circle cx="480.3" cy="181.2" r="2.6"/>
<circle cx="480.3" cy="180.2" r="2.6"/>
<circle cx="480.3" cy="178.7" r="2.6"/>
<circle cx="480.3" cy="176.7" r="2.6"/>
<circle cx="480.3" cy="174.7" r="2.6"/>
<circle cx="480.3" cy="174.2" r="2.6"/>
<circle cx="480.3" cy="173.7" r="2.6"/>
<circle cx="480.3" cy="172.7" r="2.6"/>
<circle cx="480.3" cy="170.2" r="2.6"/>
<circle cx="480.3" cy="167.2" r="2.6"/>
<circle cx="480.3" cy="166.2" r="2.6"/>
<circle cx="480.3" cy="164.2" r="2.6"/>
<circle cx="480.3" cy="163.7" r="2.6"/>
<circle cx="480.3" cy="161.2" r="2.6"/>
<circle cx="480.3" cy="158.7" r="2.6"/>
<circle cx="480.3" cy="157.7" r="2.6"/>
<circle cx="480.3" cy="156.2" r="2.6"/>
<circle cx="480.3" cy="155.7" r="2.6"/>
<circle cx="480.3" cy="152.7" r="2.6"/>
<circle cx="480.3" cy="151.2" r="2.6"/>
<circle cx="480.3" cy="149.7" r="2.6"/>
<circle cx="480.3" cy="149.2" r="2.6"/>
<circle cx="480.3" cy="144.2" r="2.6"/>
<circle cx="480.3" cy="133.7" r="2.6"/>
<circle cx="480.3" cy="129.2" r="2.6"/>
<circle cx="480.3" cy="128.7" r="2.6"/>
<circle cx="480.3" cy="125.7" r="2.6"/>
<circle cx="480.3" cy="125.2" r="2.6"/>
<circle cx="480.3" cy="120.7" r="2.6"/>
<circle cx="480.3" cy="120.2" r="2.6"/>
<circle cx="481.7" cy="199.1" r="2.6"/>
<circle cx="481.7" cy="182.7" r="2.6"/>
<circle cx="481.7" cy="179.2" r="2.6"/>
<circle cx="481.7" cy="162.2" r="2.6"/>
<circle cx="481.7" cy="157.7" r="2.6"/>
<circle cx="481.7" cy="151.2" r="2.6"/>
<circle cx="481.7" cy="121.2" r="2.6"/>
<circle cx="483.0" cy="204.7" r="2.6"/>
<circle cx="483.0" cy="198.1" r="2.6"/>
<circle cx="483.0" cy="196.1" r="2.6"/>
<circle cx="483.0" cy="193.6" r="2.6"/>
<circle cx="483.0" cy="180.7" r="2.6"/>
<circle cx="483.0" cy="178.2" r="2.6"/>
<circle cx="483.0" cy="169.2" r="2.6"/>
<circle cx="483.0" cy="159.7" r="2.6"/>
<circle cx="483.0" cy="125.2" r="2.6"/>
<circle cx="484.3" cy="200.9" r="2.6"/>
<circle cx="484.3" cy="188.7" r="2.6"/>
<circle cx="484.3" cy="181.2" r="2.6"/>
<circle cx="484.3" cy="167.7" r="2.6"/>
<circle cx="484.3" cy="122.2" r="2.6"/>
<circle cx="485.5" cy="204.7" r="2.6"/>
<circle cx="485.5" cy="196.1" r="2.6"/>
<circle cx="485.5" cy="193.6" r="2.6"/>
<circle cx="485.5" cy="190.2" r="2.6"/>
<circle cx="485.5" cy="187.2" r="2.6"/>
<circle cx="485.5" cy="183.2" r="2.6"/>
<circle cx="485.5" cy="182.2" r="2.6"/>
<circle cx="485.5" cy="179.7" r="2.6"/>
<circle cx="485.5" cy="178.7" r="2.6"/>
<circle cx="485.5" cy="171.2" r="2.6"/>
<circle cx="485.5" cy="161.7" r="2.6"/>
<circle cx="485.5" cy="156.7" r="2.6"/>
<circle cx="485.5" cy="154.2" r="2.6"/>
<circle cx="485.5" cy="151.2" r="2.6"/>
<circle cx="485.5" cy="149.2" r="2.6"/>
<circle cx="485.5" cy="145.2" r="2.6"/>
<circle cx="485.5" cy="143.2" r="2.6"/>
<circle cx="485.5" cy="131.7" r="2.6"/>
<circle cx="511.2" cy="141.5" r="2.6"/>
<circle cx="492.6" cy="142.8" r="2.6"/>
<circle cx="492.0" cy="126.1" r="2.6"/>
<circle cx="497.9" cy="127.2" r="2.6"/>
<circle cx="498.8" cy="144.6" r="2.6"/>
<circle cx="503.8" cy="139.5" r="2.6"/>
<circle cx="496.2" cy="141.4" r="2.6"/>
<circle cx="506.6" cy="138.8" r="2.6"/>
<circle cx="510.5" cy="142.5" r="2.6"/>
<circle cx="496.6" cy="123.3" r="2.6"/>
<circle cx="503.0" cy="142.7" r="2.6"/>
<circle cx="494.8" cy="136.5" r="2.6"/>
<circle cx="507.7" cy="141.6" r="2.6"/>
<circle cx="486.1" cy="133.7" r="2.6"/>
</g>
<line x1="404.5" y1="235.5" x2="707.0" y2="116.6" stroke="#f04848" stroke-width="0.9" stroke-dasharray="4 2.8"/>
</svg></body></html>
